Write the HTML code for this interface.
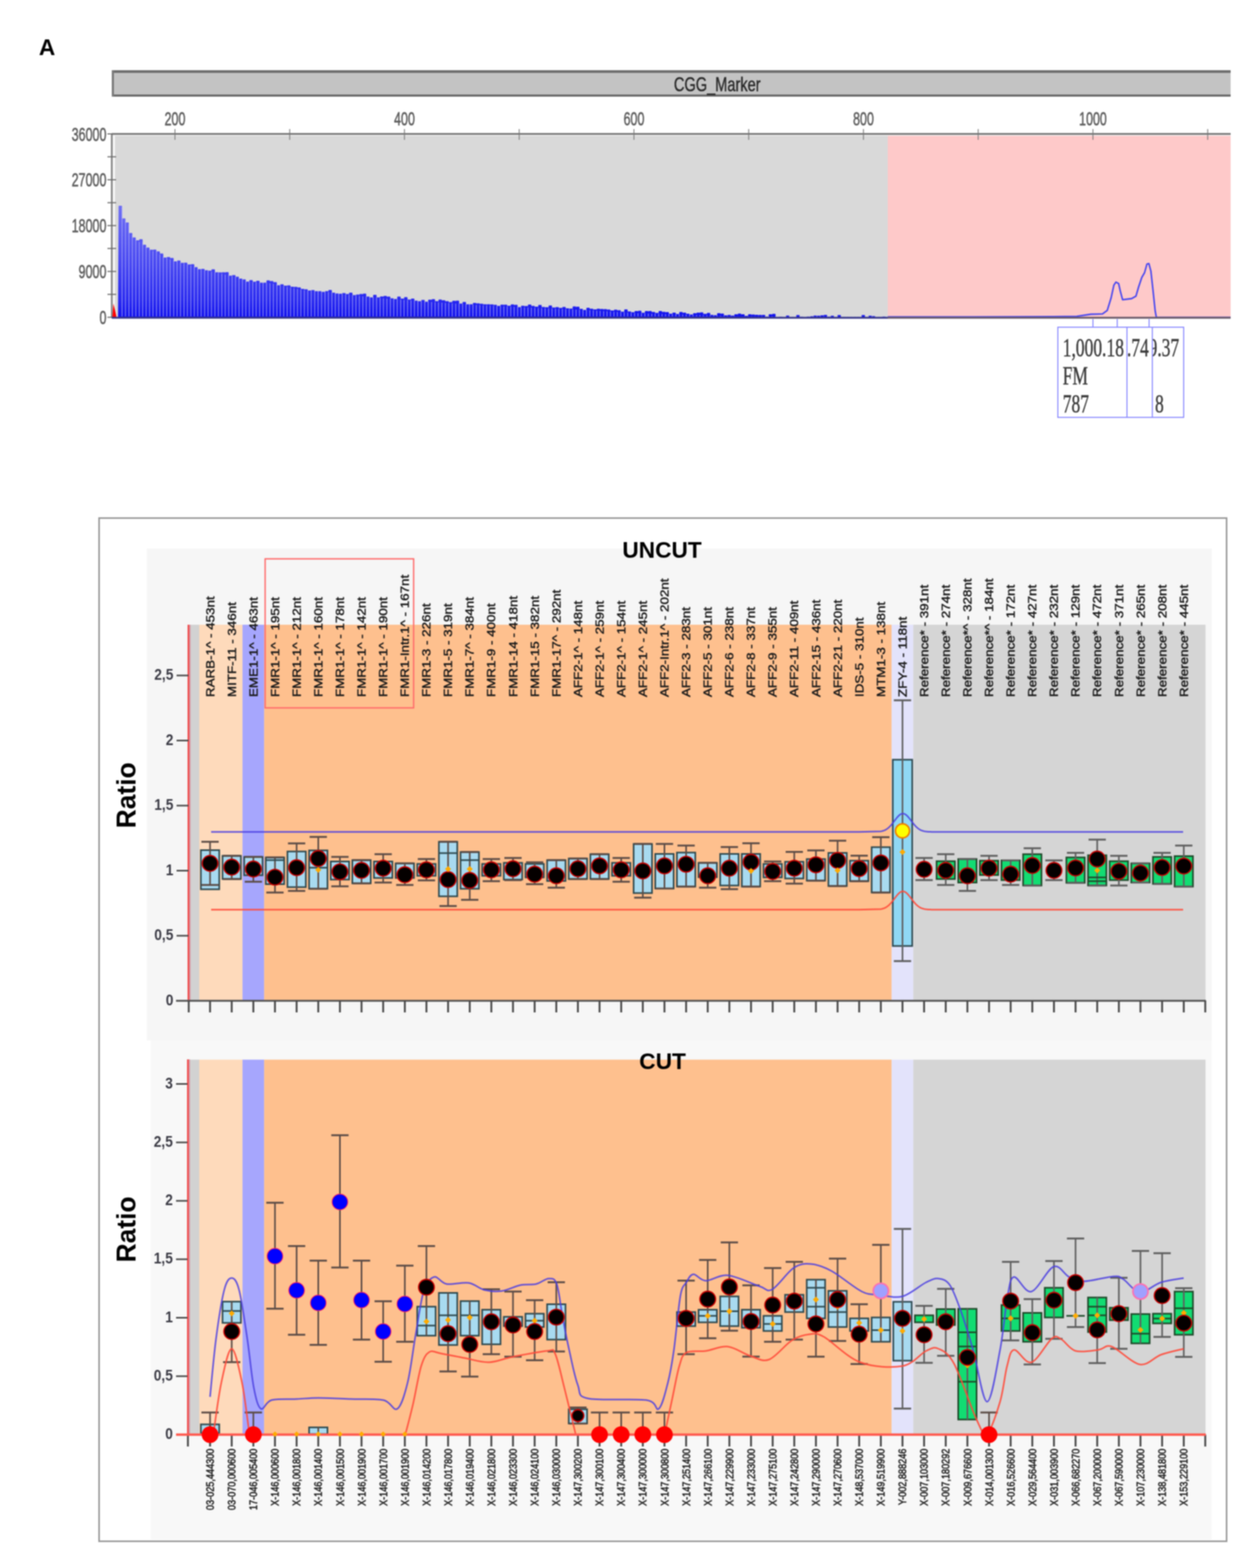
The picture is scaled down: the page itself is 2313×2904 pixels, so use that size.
<!DOCTYPE html><html><head><meta charset="utf-8"><title>CGG marker ratio chart</title><style>html,body{margin:0;padding:0;background:#fff;}svg{display:block;filter:blur(0.9px);}</style></head><body>
<svg width="2313" height="2904" viewBox="0 0 2313 2904">
<rect width="2313" height="2904" fill="#fff"/>
<g id="top">
<text x="72" y="102" font-family="'Liberation Sans', Arial, sans-serif" font-weight="bold" font-size="42" fill="#000">A</text>
<rect x="207" y="130" width="2072" height="49" fill="#c3c3c3"/>
<line x1="207" y1="132.5" x2="2279" y2="132.5" stroke="#6e6e6e" stroke-width="5"/>
<line x1="207" y1="177" x2="2279" y2="177" stroke="#6a6a6a" stroke-width="4"/>
<line x1="209" y1="130" x2="209" y2="179" stroke="#7a7a7a" stroke-width="4"/>
<text transform="translate(1248,169) scale(0.72,1)" font-family="'Liberation Sans', Arial, sans-serif" font-size="37.5" fill="#2a2a2a" stroke="#2a2a2a" stroke-width="0.7">CGG_Marker</text>
<rect x="208" y="248" width="1436" height="340" fill="#d9d9d9"/>
<rect x="1644" y="248" width="635" height="340" fill="#fec9c9"/>
<rect x="208" y="249" width="5" height="338" fill="#f6f6f6"/>
<rect x="208" y="249" width="2071" height="2.5" fill="#eeeeee"/>
<line x1="207" y1="248" x2="2279" y2="248" stroke="#6a6a6a" stroke-width="3"/>
<line x1="207" y1="247" x2="207" y2="589" stroke="#7a7a7a" stroke-width="3"/>
<line x1="324" y1="239" x2="324" y2="259" stroke="#777" stroke-width="1.6"/>
<line x1="536.5" y1="239" x2="536.5" y2="259" stroke="#777" stroke-width="1.6"/>
<line x1="749" y1="239" x2="749" y2="259" stroke="#777" stroke-width="1.6"/>
<line x1="961.5" y1="239" x2="961.5" y2="259" stroke="#777" stroke-width="1.6"/>
<line x1="1174" y1="239" x2="1174" y2="259" stroke="#777" stroke-width="1.6"/>
<line x1="1386.5" y1="239" x2="1386.5" y2="259" stroke="#777" stroke-width="1.6"/>
<line x1="1599" y1="239" x2="1599" y2="259" stroke="#777" stroke-width="1.6"/>
<line x1="1811.5" y1="239" x2="1811.5" y2="259" stroke="#777" stroke-width="1.6"/>
<line x1="2024" y1="239" x2="2024" y2="259" stroke="#777" stroke-width="1.6"/>
<line x1="2236.5" y1="239" x2="2236.5" y2="259" stroke="#777" stroke-width="1.6"/>
<text transform="translate(324,232) scale(0.66,1)" text-anchor="middle" font-family="'Liberation Sans', Arial, sans-serif" font-size="35" fill="#5e5e5e" stroke="#5e5e5e" stroke-width="0.9">200</text>
<text transform="translate(749,232) scale(0.66,1)" text-anchor="middle" font-family="'Liberation Sans', Arial, sans-serif" font-size="35" fill="#5e5e5e" stroke="#5e5e5e" stroke-width="0.9">400</text>
<text transform="translate(1174,232) scale(0.66,1)" text-anchor="middle" font-family="'Liberation Sans', Arial, sans-serif" font-size="35" fill="#5e5e5e" stroke="#5e5e5e" stroke-width="0.9">600</text>
<text transform="translate(1599,232) scale(0.66,1)" text-anchor="middle" font-family="'Liberation Sans', Arial, sans-serif" font-size="35" fill="#5e5e5e" stroke="#5e5e5e" stroke-width="0.9">800</text>
<text transform="translate(2024,232) scale(0.66,1)" text-anchor="middle" font-family="'Liberation Sans', Arial, sans-serif" font-size="35" fill="#5e5e5e" stroke="#5e5e5e" stroke-width="0.9">1000</text>
<line x1="199" y1="248" x2="215" y2="248" stroke="#6a6a6a" stroke-width="2"/>
<line x1="199" y1="290.4" x2="215" y2="290.4" stroke="#6a6a6a" stroke-width="2"/>
<line x1="199" y1="332.9" x2="215" y2="332.9" stroke="#6a6a6a" stroke-width="2"/>
<line x1="199" y1="375.4" x2="215" y2="375.4" stroke="#6a6a6a" stroke-width="2"/>
<line x1="199" y1="417.8" x2="215" y2="417.8" stroke="#6a6a6a" stroke-width="2"/>
<line x1="199" y1="460.2" x2="215" y2="460.2" stroke="#6a6a6a" stroke-width="2"/>
<line x1="199" y1="502.7" x2="215" y2="502.7" stroke="#6a6a6a" stroke-width="2"/>
<line x1="199" y1="545.2" x2="215" y2="545.2" stroke="#6a6a6a" stroke-width="2"/>
<line x1="199" y1="587.6" x2="215" y2="587.6" stroke="#6a6a6a" stroke-width="2"/>
<text transform="translate(197,260.5) scale(0.66,1)" text-anchor="end" font-family="'Liberation Sans', Arial, sans-serif" font-size="35" fill="#5e5e5e" stroke="#5e5e5e" stroke-width="0.9">36000</text>
<text transform="translate(197,345.4) scale(0.66,1)" text-anchor="end" font-family="'Liberation Sans', Arial, sans-serif" font-size="35" fill="#5e5e5e" stroke="#5e5e5e" stroke-width="0.9">27000</text>
<text transform="translate(197,430.3) scale(0.66,1)" text-anchor="end" font-family="'Liberation Sans', Arial, sans-serif" font-size="35" fill="#5e5e5e" stroke="#5e5e5e" stroke-width="0.9">18000</text>
<text transform="translate(197,515.2) scale(0.66,1)" text-anchor="end" font-family="'Liberation Sans', Arial, sans-serif" font-size="35" fill="#5e5e5e" stroke="#5e5e5e" stroke-width="0.9">9000</text>
<text transform="translate(197,600.1) scale(0.66,1)" text-anchor="end" font-family="'Liberation Sans', Arial, sans-serif" font-size="35" fill="#5e5e5e" stroke="#5e5e5e" stroke-width="0.9">0</text>
<path d="M208,588 L210,562 L212,570 L216,588 Z" fill="#ff0000"/>
<defs><linearGradient id="sg" gradientUnits="userSpaceOnUse" x1="0" y1="380" x2="0" y2="588"><stop offset="0" stop-color="#6e6ef4"/><stop offset="0.5" stop-color="#4848f2"/><stop offset="0.85" stop-color="#2828f0"/><stop offset="1" stop-color="#1010ee"/></linearGradient></defs>
<path d="M218.5,588 L219.6,382.5 L220.2,381 L225.4,381 L226,382.5 L226,405.9 L226.6,404.4 L231.8,404.4 L232.4,405.9 L232.3,413.5 L232.9,412 L238.1,412 L238.7,413.5 L238.7,433 L239.3,431.5 L244.5,431.5 L245.1,433 L245.1,441.3 L245.7,439.8 L250.9,439.8 L251.5,441.3 L251.5,446.6 L252.1,445.1 L257.3,445.1 L257.9,446.6 L257.8,444.6 L258.4,443.1 L263.6,443.1 L264.2,444.6 L264.2,454.7 L264.8,453.2 L270,453.2 L270.6,454.7 L270.6,460 L271.2,458.5 L276.4,458.5 L277,460 L276.9,464 L277.5,462.5 L282.7,462.5 L283.3,464 L283.3,463.8 L283.9,462.3 L289.1,462.3 L289.7,463.8 L289.7,467.1 L290.3,465.6 L295.5,465.6 L296.1,467.1 L296,471 L296.6,469.5 L301.8,469.5 L302.4,471 L302.4,478.6 L303,477.1 L308.2,477.1 L308.8,478.6 L308.8,477.6 L309.4,476.1 L314.6,476.1 L315.2,477.6 L315.2,479.3 L315.8,477.8 L321,477.8 L321.6,479.3 L321.5,485.5 L322.1,484 L327.3,484 L327.9,485.5 L327.9,484 L328.5,482.5 L333.7,482.5 L334.3,484 L334.3,488.2 L334.9,486.7 L340.1,486.7 L340.7,488.2 L340.6,488 L341.2,486.5 L346.4,486.5 L347,488 L347,491.2 L347.6,489.7 L352.8,489.7 L353.4,491.2 L353.4,490.8 L354,489.3 L359.2,489.3 L359.8,490.8 L359.7,496.2 L360.3,494.7 L365.5,494.7 L366.1,496.2 L366.1,500 L366.7,498.5 L371.9,498.5 L372.5,500 L372.5,499.5 L373.1,498 L378.3,498 L378.9,499.5 L378.9,502 L379.5,500.5 L384.7,500.5 L385.3,502 L385.2,502.8 L385.8,501.3 L391,501.3 L391.6,502.8 L391.6,500.3 L392.2,498.8 L397.4,498.8 L398,500.3 L398,505.7 L398.6,504.2 L403.8,504.2 L404.4,505.7 L404.3,506.1 L404.9,504.6 L410.1,504.6 L410.7,506.1 L410.7,505.8 L411.3,504.3 L416.5,504.3 L417.1,505.8 L417.1,505.6 L417.7,504.1 L422.9,504.1 L423.5,505.6 L423.4,512 L424,510.5 L429.2,510.5 L429.8,512 L429.8,511.1 L430.4,509.6 L435.6,509.6 L436.2,511.1 L436.2,514 L436.8,512.5 L442,512.5 L442.6,514 L442.6,517.4 L443.2,515.9 L448.4,515.9 L449,517.4 L448.9,519 L449.5,517.5 L454.7,517.5 L455.3,519 L455.3,522.9 L455.9,521.4 L461.1,521.4 L461.7,522.9 L461.7,520.3 L462.3,518.8 L467.5,518.8 L468.1,520.3 L468,523.2 L468.6,521.7 L473.8,521.7 L474.4,523.2 L474.4,521.5 L475,520 L480.2,520 L480.8,521.5 L480.8,524.9 L481.4,523.4 L486.6,523.4 L487.2,524.9 L487.1,524.9 L487.7,523.4 L492.9,523.4 L493.5,524.9 L493.5,520.7 L494.1,519.2 L499.3,519.2 L499.9,520.7 L499.9,521.9 L500.5,520.4 L505.7,520.4 L506.3,521.9 L506.3,523.9 L506.9,522.4 L512.1,522.4 L512.7,523.9 L512.6,529.8 L513.2,528.3 L518.4,528.3 L519,529.8 L519,528 L519.6,526.5 L524.8,526.5 L525.4,528 L525.4,530.6 L526,529.1 L531.2,529.1 L531.8,530.6 L531.7,529.9 L532.3,528.4 L537.5,528.4 L538.1,529.9 L538.1,532.4 L538.7,530.9 L543.9,530.9 L544.5,532.4 L544.5,532.8 L545.1,531.3 L550.3,531.3 L550.9,532.8 L550.8,533.8 L551.4,532.3 L556.6,532.3 L557.2,533.8 L557.2,536.4 L557.8,534.9 L563,534.9 L563.6,536.4 L563.6,537.2 L564.2,535.7 L569.4,535.7 L570,537.2 L570,539.6 L570.6,538.1 L575.8,538.1 L576.4,539.6 L576.3,538.8 L576.9,537.3 L582.1,537.3 L582.7,538.8 L582.7,540.7 L583.3,539.2 L588.5,539.2 L589.1,540.7 L589.1,540.8 L589.7,539.3 L594.9,539.3 L595.5,540.8 L595.4,542 L596,540.5 L601.2,540.5 L601.8,542 L601.8,540.7 L602.4,539.2 L607.6,539.2 L608.2,540.7 L608.2,538.4 L608.8,536.9 L614,536.9 L614.6,538.4 L614.5,543.5 L615.1,542 L620.3,542 L620.9,543.5 L620.9,544.9 L621.5,543.4 L626.7,543.4 L627.3,544.9 L627.3,545.4 L627.9,543.9 L633.1,543.9 L633.7,545.4 L633.7,544.2 L634.3,542.7 L639.5,542.7 L640.1,544.2 L640,545.9 L640.6,544.4 L645.8,544.4 L646.4,545.9 L646.4,543.6 L647,542.1 L652.2,542.1 L652.8,543.6 L652.8,547.9 L653.4,546.4 L658.6,546.4 L659.2,547.9 L659.1,547 L659.7,545.5 L664.9,545.5 L665.5,547 L665.5,546 L666.1,544.5 L671.3,544.5 L671.9,546 L671.9,545.3 L672.5,543.8 L677.7,543.8 L678.3,545.3 L678.2,550.7 L678.8,549.2 L684,549.2 L684.6,550.7 L684.6,552.2 L685.2,550.7 L690.4,550.7 L691,552.2 L691,547.4 L691.6,545.9 L696.8,545.9 L697.4,547.4 L697.4,552.3 L698,550.8 L703.2,550.8 L703.8,552.3 L703.7,550.5 L704.3,549 L709.5,549 L710.1,550.5 L710.1,549.4 L710.7,547.9 L715.9,547.9 L716.5,549.4 L716.5,550.8 L717.1,549.3 L722.3,549.3 L722.9,550.8 L722.8,554.1 L723.4,552.6 L728.6,552.6 L729.2,554.1 L729.2,555.2 L729.8,553.7 L735,553.7 L735.6,555.2 L735.6,550.7 L736.2,549.2 L741.4,549.2 L742,550.7 L741.9,554.6 L742.5,553.1 L747.7,553.1 L748.3,554.6 L748.3,551.7 L748.9,550.2 L754.1,550.2 L754.7,551.7 L754.7,556.2 L755.3,554.7 L760.5,554.7 L761.1,556.2 L761.1,554.4 L761.7,552.9 L766.9,552.9 L767.5,554.4 L767.4,558.2 L768,556.7 L773.2,556.7 L773.8,558.2 L773.8,559.2 L774.4,557.7 L779.6,557.7 L780.2,559.2 L780.2,556.9 L780.8,555.4 L786,555.4 L786.6,556.9 L786.5,560.3 L787.1,558.8 L792.3,558.8 L792.9,560.3 L792.9,556.6 L793.5,555.1 L798.7,555.1 L799.3,556.6 L799.3,555.6 L799.9,554.1 L805.1,554.1 L805.7,555.6 L805.6,559.2 L806.2,557.7 L811.4,557.7 L812,559.2 L812,556.2 L812.6,554.7 L817.8,554.7 L818.4,556.2 L818.4,557.6 L819,556.1 L824.2,556.1 L824.8,557.6 L824.8,559.3 L825.4,557.8 L830.6,557.8 L831.2,559.3 L831.1,560.9 L831.7,559.4 L836.9,559.4 L837.5,560.9 L837.5,558.6 L838.1,557.1 L843.3,557.1 L843.9,558.6 L843.9,558.3 L844.5,556.8 L849.7,556.8 L850.3,558.3 L850.2,563.7 L850.8,562.2 L856,562.2 L856.6,563.7 L856.6,560.8 L857.2,559.3 L862.4,559.3 L863,560.8 L863,565.1 L863.6,563.6 L868.8,563.6 L869.4,565.1 L869.3,565.1 L869.9,563.6 L875.1,563.6 L875.7,565.1 L875.7,562.4 L876.3,560.9 L881.5,560.9 L882.1,562.4 L882.1,563.3 L882.7,561.8 L887.9,561.8 L888.5,563.3 L888.5,564 L889.1,562.5 L894.3,562.5 L894.9,564 L894.8,565.1 L895.4,563.6 L900.6,563.6 L901.2,565.1 L901.2,565.1 L901.8,563.6 L907,563.6 L907.6,565.1 L907.6,565.2 L908.2,563.7 L913.4,563.7 L914,565.2 L913.9,565.9 L914.5,564.4 L919.7,564.4 L920.3,565.9 L920.3,568.1 L920.9,566.6 L926.1,566.6 L926.7,568.1 L926.7,565.8 L927.3,564.3 L932.5,564.3 L933.1,565.8 L933,565.7 L933.6,564.2 L938.8,564.2 L939.4,565.7 L939.4,567.8 L940,566.3 L945.2,566.3 L945.8,567.8 L945.8,565.2 L946.4,563.7 L951.6,563.7 L952.2,565.2 L952.2,565.9 L952.8,564.4 L958,564.4 L958.6,565.9 L958.5,570.3 L959.1,568.8 L964.3,568.8 L964.9,570.3 L964.9,567.8 L965.5,566.3 L970.7,566.3 L971.3,567.8 L971.3,568.3 L971.9,566.8 L977.1,566.8 L977.7,568.3 L977.6,565.4 L978.2,563.9 L983.4,563.9 L984,565.4 L984,568.1 L984.6,566.6 L989.8,566.6 L990.4,568.1 L990.4,569.4 L991,567.9 L996.2,567.9 L996.8,569.4 L996.7,566.3 L997.3,564.8 L1002.5,564.8 L1003.1,566.3 L1003.1,570.1 L1003.7,568.6 L1008.9,568.6 L1009.5,570.1 L1009.5,570.5 L1010.1,569 L1015.3,569 L1015.9,570.5 L1015.9,567.3 L1016.5,565.8 L1021.7,565.8 L1022.3,567.3 L1022.2,571 L1022.8,569.5 L1028,569.5 L1028.6,571 L1028.6,570.3 L1029.2,568.8 L1034.4,568.8 L1035,570.3 L1035,571.8 L1035.6,570.3 L1040.8,570.3 L1041.4,571.8 L1041.3,570.1 L1041.9,568.6 L1047.1,568.6 L1047.7,570.1 L1047.7,572.5 L1048.3,571 L1053.5,571 L1054.1,572.5 L1054.1,573 L1054.7,571.5 L1059.9,571.5 L1060.5,573 L1060.4,569 L1061,567.5 L1066.2,567.5 L1066.8,569 L1066.8,569.4 L1067.4,567.9 L1072.6,567.9 L1073.2,569.4 L1073.2,573.4 L1073.8,571.9 L1079,571.9 L1079.6,573.4 L1079.5,575.5 L1080.1,574 L1085.3,574 L1085.9,575.5 L1085.9,571.6 L1086.5,570.1 L1091.7,570.1 L1092.3,571.6 L1092.3,573.2 L1092.9,571.7 L1098.1,571.7 L1098.7,573.2 L1098.7,574.4 L1099.3,572.9 L1104.5,572.9 L1105.1,574.4 L1105,573.2 L1105.6,571.7 L1110.8,571.7 L1111.4,573.2 L1111.4,573.8 L1112,572.3 L1117.2,572.3 L1117.8,573.8 L1117.8,573.9 L1118.4,572.4 L1123.6,572.4 L1124.2,573.9 L1124.1,574.7 L1124.7,573.2 L1129.9,573.2 L1130.5,574.7 L1130.5,576.4 L1131.1,574.9 L1136.3,574.9 L1136.9,576.4 L1136.9,575.1 L1137.5,573.6 L1142.7,573.6 L1143.3,575.1 L1143.2,575.9 L1143.8,574.4 L1149,574.4 L1149.6,575.9 L1149.6,578.7 L1150.2,577.2 L1155.4,577.2 L1156,578.7 L1156,574.6 L1156.6,573.1 L1161.8,573.1 L1162.4,574.6 L1162.4,578.3 L1163,576.8 L1168.2,576.8 L1168.8,578.3 L1168.7,579.7 L1169.3,578.2 L1174.5,578.2 L1175.1,579.7 L1175.1,577.4 L1175.7,575.9 L1180.9,575.9 L1181.5,577.4 L1181.5,577.1 L1182.1,575.6 L1187.3,575.6 L1187.9,577.1 L1187.8,580.8 L1188.4,579.3 L1193.6,579.3 L1194.2,580.8 L1194.2,577.6 L1194.8,576.1 L1200,576.1 L1200.6,577.6 L1200.6,577.5 L1201.2,576 L1206.4,576 L1207,577.5 L1206.9,579.2 L1207.5,577.7 L1212.7,577.7 L1213.3,579.2 L1213.3,580.9 L1213.9,579.4 L1219.1,579.4 L1219.7,580.9 L1219.7,577.6 L1220.3,576.1 L1225.5,576.1 L1226.1,577.6 L1226.1,579.1 L1226.7,577.6 L1231.9,577.6 L1232.5,579.1 L1232.4,579.4 L1233,577.9 L1238.2,577.9 L1238.8,579.4 L1238.8,582.6 L1239.4,581.1 L1244.6,581.1 L1245.2,582.6 L1245.2,580.4 L1245.8,578.9 L1251,578.9 L1251.6,580.4 L1251.5,583.1 L1252.1,581.6 L1257.3,581.6 L1257.9,583.1 L1257.9,579.2 L1258.5,577.7 L1263.7,577.7 L1264.3,579.2 L1264.3,580.4 L1264.9,578.9 L1270.1,578.9 L1270.7,580.4 L1270.6,582.4 L1271.2,580.9 L1276.4,580.9 L1277,582.4 L1277,584 L1277.6,582.5 L1282.8,582.5 L1283.4,584 L1283.4,581.6 L1284,580.1 L1289.2,580.1 L1289.8,581.6 L1289.8,580.5 L1290.4,579 L1295.6,579 L1296.2,580.5 L1296.1,580.1 L1296.7,578.6 L1301.9,578.6 L1302.5,580.1 L1302.5,582.7 L1303.1,581.2 L1308.3,581.2 L1308.9,582.7 L1308.9,580.9 L1309.5,579.4 L1314.7,579.4 L1315.3,580.9 L1315.2,584.8 L1315.8,583.3 L1321,583.3 L1321.6,584.8 L1321.6,585.2 L1322.2,583.7 L1327.4,583.7 L1328,585.2 L1328,581.4 L1328.6,579.9 L1333.8,579.9 L1334.4,581.4 L1334.3,582.2 L1334.9,580.7 L1340.1,580.7 L1340.7,582.2 L1340.7,585.6 L1341.3,584.1 L1346.5,584.1 L1347.1,585.6 L1347.1,584.8 L1347.7,583.3 L1352.9,583.3 L1353.5,584.8 L1353.5,586 L1354.1,584.5 L1359.3,584.5 L1359.9,586 L1359.8,583.4 L1360.4,581.9 L1365.6,581.9 L1366.2,583.4 L1366.2,582.3 L1366.8,580.8 L1372,580.8 L1372.6,582.3 L1372.6,583.4 L1373.2,581.9 L1378.4,581.9 L1379,583.4 L1378.9,586.5 L1379.5,585 L1384.7,585 L1385.3,586.5 L1385.3,583.5 L1385.9,582 L1391.1,582 L1391.7,583.5 L1391.7,584.1 L1392.3,582.6 L1397.5,582.6 L1398.1,584.1 L1398,584.6 L1398.6,583.1 L1403.8,583.1 L1404.4,584.6 L1404.4,584.8 L1405,583.3 L1410.2,583.3 L1410.8,584.8 L1410.8,584.8 L1411.4,583.3 L1416.6,583.3 L1417.2,584.8 L1417.2,588 L1417.8,586.5 L1423,586.5 L1423.6,587 L1423.5,583.6 L1424.1,582.1 L1429.3,582.1 L1429.9,583.6 L1429.9,582.8 L1430.5,581.3 L1435.7,581.3 L1436.3,582.8 L1436.3,588.5 L1436.9,587 L1442.1,587 L1442.7,587 L1442.6,588.3 L1443.2,586.8 L1448.4,586.8 L1449,587 L1449,588.5 L1449.6,587 L1454.8,587 L1455.4,587 L1455.4,585.9 L1456,584.4 L1461.2,584.4 L1461.8,585.9 L1461.7,588.5 L1462.3,587 L1467.5,587 L1468.1,587 L1468.1,588.5 L1468.7,587 L1473.9,587 L1474.5,587 L1474.5,585 L1475.1,583.5 L1480.3,583.5 L1480.9,585 L1480.9,588.2 L1481.5,586.7 L1486.7,586.7 L1487.3,587 L1487.2,588.5 L1487.8,587 L1493,587 L1493.6,587 L1493.6,588 L1494.2,586.5 L1499.4,586.5 L1500,587 L1500,587.2 L1500.6,585.7 L1505.8,585.7 L1506.4,587 L1506.3,585.9 L1506.9,584.4 L1512.1,584.4 L1512.7,585.9 L1512.7,586.2 L1513.3,584.7 L1518.5,584.7 L1519.1,586.2 L1519.1,585.6 L1519.7,584.1 L1524.9,584.1 L1525.5,585.6 L1525.4,584.7 L1526,583.2 L1531.2,583.2 L1531.8,584.7 L1531.8,587.9 L1532.4,586.4 L1537.6,586.4 L1538.2,587 L1538.2,586.2 L1538.8,584.7 L1544,584.7 L1544.6,586.2 L1544.6,588.5 L1545.2,587 L1550.4,587 L1551,587 L1550.9,584.9 L1551.5,583.4 L1556.7,583.4 L1557.3,584.9 L1557.3,588.5 L1557.9,587 L1563.1,587 L1563.7,587 L1563.7,588.5 L1564.3,587 L1569.5,587 L1570.1,587 L1570,588.5 L1570.6,587 L1575.8,587 L1576.4,587 L1576.4,588.5 L1577,587 L1582.2,587 L1582.8,587 L1582.8,588.5 L1583.4,587 L1588.6,587 L1589.2,587 L1589.1,588.4 L1589.7,586.9 L1594.9,586.9 L1595.5,587 L1595.5,585.1 L1596.1,583.6 L1601.3,583.6 L1601.9,585.1 L1601.9,588.5 L1602.5,587 L1607.7,587 L1608.3,587 L1608.3,586.2 L1608.9,584.7 L1614.1,584.7 L1614.7,586.2 L1614.6,587 L1615.2,585.5 L1620.4,585.5 L1621,587 L1621,588.5 L1621.6,587 L1626.8,587 L1627.4,587 L1627.4,588.5 L1628,587 L1633.2,587 L1633.8,587 L1633.7,587.9 L1634.3,586.4 L1639.5,586.4 L1640.1,587 L1644,588 Z" fill="url(#sg)"/>
<path d="M226,586 V384 M232.4,586 V407.4 M238.7,586 V415 M245.1,586 V434.5 M251.5,586 V442.8 M257.9,586 V448.1 M264.2,586 V447.7 M270.6,586 V455.9 M277,586 V462.3 M283.3,586 V464.9 M289.7,586 V464.6 M296.1,586 V471.2 M302.4,586 V475.5 M308.8,586 V478 M315.2,586 V480.6 M321.6,586 V482.4 M327.9,586 V484 M334.3,586 V485.7 M340.7,586 V487.7 M347,586 V489.7 M353.4,586 V491.9 M359.8,586 V494.4 M366.1,586 V496.8 M372.5,586 V499.3 M378.9,586 V500.9 M385.3,586 V502.1 M391.6,586 V503.3 M398,586 V504.5 M404.4,586 V505.7 M410.7,586 V507 M417.1,586 V508.5 M423.5,586 V509.9 M429.8,586 V511.4 M436.2,586 V512.8 M442.6,586 V514.2 M449,586 V516.6 M455.3,586 V519.2 M461.7,586 V521.9 M468.1,586 V522.4 M474.4,586 V522.9 M480.8,586 V523.3 M487.2,586 V523.7 M493.5,586 V524.2 M499.9,586 V524.6 M506.3,586 V525.6 M512.7,586 V527.1 M519,586 V528.5 M525.4,586 V529.9 M531.8,586 V531.3 M538.1,586 V532.6 M544.5,586 V533.8 M550.9,586 V535 M557.2,586 V536.2 M563.6,586 V537.4 M570,586 V538.2 M576.4,586 V538.7 M582.7,586 V539.2 M589.1,586 V539.7 M595.5,586 V540.1 M601.8,586 V540.6 M608.2,586 V541.1 M614.6,586 V542 M620.9,586 V542.8 M627.3,586 V543.6 M633.7,586 V544.5 M640.1,586 V545.3 M646.4,586 V546.1 M652.8,586 V546.8 M659.2,586 V547.4 M665.5,586 V548.1 M671.9,586 V548.8 M678.3,586 V549.4 M684.6,586 V550.1 M691,586 V550.7 M697.4,586 V551.4 M703.8,586 V552 M710.1,586 V552.5 M716.5,586 V553 M722.9,586 V553.5 M729.2,586 V554 M735.6,586 V554.5 M742,586 V554.9 M748.3,586 V555.4 M754.7,586 V555.9 M761.1,586 V556.4 M767.5,586 V556.9 M773.8,586 V557.4 M780.2,586 V557.9 M786.6,586 V558.3 M792.9,586 V558.8 M799.3,586 V559.3 M805.7,586 V559.7 M812,586 V560.1 M818.4,586 V560.5 M824.8,586 V560.9 M831.2,586 V561.3 M837.5,586 V561.8 M843.9,586 V562.2 M850.3,586 V562.6 M856.6,586 V563 M863,586 V563.4 M869.4,586 V563.8 M875.7,586 V564.3 M882.1,586 V564.7 M888.5,586 V565.1 M894.9,586 V565.4 M901.2,586 V565.7 M907.6,586 V566 M914,586 V566.3 M920.3,586 V566.7 M926.7,586 V567 M933.1,586 V567.3 M939.4,586 V567.6 M945.8,586 V567.9 M952.2,586 V568.2 M958.6,586 V568.6 M964.9,586 V568.9 M971.3,586 V569.2 M977.7,586 V569.5 M984,586 V569.8 M990.4,586 V570.1 M996.8,586 V570.4 M1003.1,586 V570.7 M1009.5,586 V570.9 M1015.9,586 V571.2 M1022.3,586 V571.5 M1028.6,586 V571.7 M1035,586 V572 M1041.4,586 V572.3 M1047.7,586 V572.5 M1054.1,586 V572.8 M1060.5,586 V573.1 M1066.8,586 V573.3 M1073.2,586 V573.6 M1079.6,586 V573.8 M1085.9,586 V574.2 M1092.3,586 V574.6 M1098.7,586 V575 M1105.1,586 V575.4 M1111.4,586 V575.8 M1117.8,586 V576.2 M1124.2,586 V576.6 M1130.5,586 V577 M1136.9,586 V577.4 M1143.3,586 V577.8 M1149.6,586 V578.2 M1156,586 V578.6 M1162.4,586 V578.9 M1168.8,586 V579.3 M1175.1,586 V579.7 M1181.5,586 V580.1 M1187.9,586 V580.3 M1194.2,586 V580.5 M1200.6,586 V580.7 M1207,586 V580.9 M1213.3,586 V581.1 M1219.7,586 V581.3 M1226.1,586 V581.5 M1232.5,586 V581.7 M1238.8,586 V581.9 M1245.2,586 V582.1 M1251.6,586 V582.2 M1257.9,586 V582.4 M1264.3,586 V582.6 M1270.7,586 V582.8 M1277,586 V583 M1283.4,586 V583.2 M1289.8,586 V583.4 M1296.2,586 V583.6 M1302.5,586 V583.8 M1308.9,586 V584 M1315.3,586 V584.2 M1321.6,586 V584.4 M1328,586 V584.6 M1334.4,586 V584.8 M1340.7,586 V585 M1347.1,586 V585.2 M1353.5,586 V585.4 M1359.9,586 V585.6 M1366.2,586 V585.8 M1372.6,586 V586 M1379,586 V586.1 M1385.3,586 V586.3 M1391.7,586 V586.4 M1398.1,586 V586.5 M1404.4,586 V586.6 M1410.8,586 V586.8 M1417.2,586 V586.9 M1423.6,586 V587 M1429.9,586 V587.1 M1436.3,586 V587.3 M1442.7,586 V587.4 M1449,586 V587.5 M1455.4,586 V587.6 M1461.8,586 V587.7 M1468.1,586 V587.9 M1474.5,586 V588 M1480.9,586 V588.1 M1487.3,586 V588.2 M1493.6,586 V588.4 M1500,586 V588.5 M1506.4,586 V588.6 M1512.7,586 V588.6 M1519.1,586 V588.7 M1525.5,586 V588.8 M1531.8,586 V588.8 M1538.2,586 V588.9 M1544.6,586 V589 M1551,586 V589 M1557.3,586 V589.1 M1563.7,586 V589.1 M1570.1,586 V589.2 M1576.4,586 V589.3 M1582.8,586 V589.3 M1589.2,586 V589.4 M1595.5,586 V589.5 M1601.9,586 V589.5 M1608.3,586 V589.6 M1614.7,586 V589.7 M1621,586 V589.7 M1627.4,586 V589.8 M1633.8,586 V589.9 M1640.1,586 V589.9 " stroke="#b4b4f6" stroke-width="1.5" stroke-opacity="0.75" fill="none"/>
<polyline points="1644,587 1800,587 1950,586.5 1994,585.8 2020,582 2041.7,581.4 2050.5,574.8 2057.7,551.5 2062.8,528 2066.5,522.4 2071.6,525.3 2074.5,538.4 2078.9,555.2 2095.6,553 2103.6,548.6 2108.7,531 2114.5,513.7 2119.6,505 2124,489 2127.6,488.2 2131.3,502 2135,535.5 2139.3,576.3 2141.5,588 2279,588" fill="none" stroke="#4444f0" stroke-width="2.8" stroke-linejoin="round"/>
<line x1="207" y1="588.5" x2="1644" y2="588.5" stroke="#3a3a8a" stroke-width="3.5"/>
<line x1="1644" y1="588.5" x2="2279" y2="588.5" stroke="#6a5a6a" stroke-width="3.5"/>
<g stroke="#8a8aff" stroke-width="2" fill="none">
<rect x="1959" y="606" width="233" height="167"/>
<line x1="2087" y1="606" x2="2087" y2="773"/><line x1="2134" y1="606" x2="2134" y2="773"/>
<line x1="2024" y1="591" x2="2024" y2="606"/><line x1="2069" y1="591" x2="2069" y2="606"/><line x1="2128" y1="591" x2="2128" y2="606"/>
</g>
<defs><clipPath id="c1"><rect x="1960" y="607" width="126" height="165"/></clipPath><clipPath id="c2"><rect x="2088" y="607" width="45" height="165"/></clipPath><clipPath id="c3"><rect x="2135" y="607" width="56" height="165"/></clipPath></defs>
<g clip-path="url(#c1)"><text transform="translate(1968,660) scale(0.661,1)" font-family="'Liberation Serif', 'Times New Roman', serif" font-size="49" fill="#3a3a3a" stroke="#3a3a3a" stroke-width="0.7">1,000.18</text><text transform="translate(1968,712) scale(0.661,1)" font-family="'Liberation Serif', 'Times New Roman', serif" font-size="49" fill="#3a3a3a" stroke="#3a3a3a" stroke-width="0.7">FM</text><text transform="translate(1968,764) scale(0.661,1)" font-family="'Liberation Serif', 'Times New Roman', serif" font-size="49" fill="#3a3a3a" stroke="#3a3a3a" stroke-width="0.7">787</text></g>
<g clip-path="url(#c2)"><text transform="translate(2087,660) scale(0.661,1)" font-family="'Liberation Serif', 'Times New Roman', serif" font-size="49" fill="#3a3a3a" stroke="#3a3a3a" stroke-width="0.7">.74</text></g>
<g clip-path="url(#c3)"><text transform="translate(2127,660) scale(0.661,1)" font-family="'Liberation Serif', 'Times New Roman', serif" font-size="49" fill="#3a3a3a" stroke="#3a3a3a" stroke-width="0.7">9.37</text><text transform="translate(2139,764) scale(0.661,1)" font-family="'Liberation Serif', 'Times New Roman', serif" font-size="49" fill="#3a3a3a" stroke="#3a3a3a" stroke-width="0.7">8</text></g>
</g>
<rect x="183.5" y="959.5" width="2088" height="1895" fill="#fff" stroke="#9a9a9a" stroke-width="3"/>
<rect x="272" y="1016" width="1972" height="911" fill="#f6f6f6"/>
<rect x="279" y="1927" width="1965" height="924" fill="#f8f8f8"/>
<rect x="351" y="1157" width="18" height="696.5" fill="#d2d2d2"/>
<rect x="369" y="1157" width="80.1" height="696.5" fill="#fedabb"/>
<rect x="449.1" y="1157" width="40.1" height="696.5" fill="#a6a6fd"/>
<rect x="489.2" y="1157" width="1162" height="696.5" fill="#fec08e"/>
<rect x="1651.2" y="1157" width="40.1" height="696.5" fill="#e3e3fb"/>
<rect x="1691.3" y="1157" width="541.2" height="696.5" fill="#d5d5d5"/>
<rect x="491" y="1035" width="275" height="276" fill="none" stroke="#ff6a6a" stroke-width="2.5"/>
<text transform="translate(396.5,1291) rotate(-90) scale(1,0.9)" font-family="'Liberation Sans', Arial, sans-serif" font-size="24.8" fill="#1a1a1a" stroke="#1a1a1a" stroke-width="0.8">RARB-1^ - 453nt</text>
<text transform="translate(436.6,1291) rotate(-90) scale(1,0.9)" font-family="'Liberation Sans', Arial, sans-serif" font-size="24.8" fill="#1a1a1a" stroke="#1a1a1a" stroke-width="0.8">MITF-11 - 346nt</text>
<text transform="translate(476.7,1291) rotate(-90) scale(1,0.9)" font-family="'Liberation Sans', Arial, sans-serif" font-size="24.8" fill="#1a1a1a" stroke="#1a1a1a" stroke-width="0.8">EME1-1^ - 463nt</text>
<text transform="translate(516.7,1291) rotate(-90) scale(1,0.9)" font-family="'Liberation Sans', Arial, sans-serif" font-size="24.8" fill="#1a1a1a" stroke="#1a1a1a" stroke-width="0.8">FMR1-1^ - 195nt</text>
<text transform="translate(556.8,1291) rotate(-90) scale(1,0.9)" font-family="'Liberation Sans', Arial, sans-serif" font-size="24.8" fill="#1a1a1a" stroke="#1a1a1a" stroke-width="0.8">FMR1-1^ - 212nt</text>
<text transform="translate(596.9,1291) rotate(-90) scale(1,0.9)" font-family="'Liberation Sans', Arial, sans-serif" font-size="24.8" fill="#1a1a1a" stroke="#1a1a1a" stroke-width="0.8">FMR1-1^ - 160nt</text>
<text transform="translate(637,1291) rotate(-90) scale(1,0.9)" font-family="'Liberation Sans', Arial, sans-serif" font-size="24.8" fill="#1a1a1a" stroke="#1a1a1a" stroke-width="0.8">FMR1-1^ - 178nt</text>
<text transform="translate(677,1291) rotate(-90) scale(1,0.9)" font-family="'Liberation Sans', Arial, sans-serif" font-size="24.8" fill="#1a1a1a" stroke="#1a1a1a" stroke-width="0.8">FMR1-1^ - 142nt</text>
<text transform="translate(717.1,1291) rotate(-90) scale(1,0.9)" font-family="'Liberation Sans', Arial, sans-serif" font-size="24.8" fill="#1a1a1a" stroke="#1a1a1a" stroke-width="0.8">FMR1-1^ - 190nt</text>
<text transform="translate(757.2,1291) rotate(-90) scale(1,0.9)" font-family="'Liberation Sans', Arial, sans-serif" font-size="24.8" fill="#1a1a1a" stroke="#1a1a1a" stroke-width="0.8">FMR1-Intr.1^ - 167nt</text>
<text transform="translate(797.2,1291) rotate(-90) scale(1,0.9)" font-family="'Liberation Sans', Arial, sans-serif" font-size="24.8" fill="#1a1a1a" stroke="#1a1a1a" stroke-width="0.8">FMR1-3 - 226nt</text>
<text transform="translate(837.3,1291) rotate(-90) scale(1,0.9)" font-family="'Liberation Sans', Arial, sans-serif" font-size="24.8" fill="#1a1a1a" stroke="#1a1a1a" stroke-width="0.8">FMR1-5 - 319nt</text>
<text transform="translate(877.4,1291) rotate(-90) scale(1,0.9)" font-family="'Liberation Sans', Arial, sans-serif" font-size="24.8" fill="#1a1a1a" stroke="#1a1a1a" stroke-width="0.8">FMR1-7^ - 384nt</text>
<text transform="translate(917.4,1291) rotate(-90) scale(1,0.9)" font-family="'Liberation Sans', Arial, sans-serif" font-size="24.8" fill="#1a1a1a" stroke="#1a1a1a" stroke-width="0.8">FMR1-9 - 400nt</text>
<text transform="translate(957.5,1291) rotate(-90) scale(1,0.9)" font-family="'Liberation Sans', Arial, sans-serif" font-size="24.8" fill="#1a1a1a" stroke="#1a1a1a" stroke-width="0.8">FMR1-14 - 418nt</text>
<text transform="translate(997.6,1291) rotate(-90) scale(1,0.9)" font-family="'Liberation Sans', Arial, sans-serif" font-size="24.8" fill="#1a1a1a" stroke="#1a1a1a" stroke-width="0.8">FMR1-15 - 382nt</text>
<text transform="translate(1037.7,1291) rotate(-90) scale(1,0.9)" font-family="'Liberation Sans', Arial, sans-serif" font-size="24.8" fill="#1a1a1a" stroke="#1a1a1a" stroke-width="0.8">FMR1-17^ - 292nt</text>
<text transform="translate(1077.7,1291) rotate(-90) scale(1,0.9)" font-family="'Liberation Sans', Arial, sans-serif" font-size="24.8" fill="#1a1a1a" stroke="#1a1a1a" stroke-width="0.8">AFF2-1^ - 148nt</text>
<text transform="translate(1117.8,1291) rotate(-90) scale(1,0.9)" font-family="'Liberation Sans', Arial, sans-serif" font-size="24.8" fill="#1a1a1a" stroke="#1a1a1a" stroke-width="0.8">AFF2-1^ - 259nt</text>
<text transform="translate(1157.9,1291) rotate(-90) scale(1,0.9)" font-family="'Liberation Sans', Arial, sans-serif" font-size="24.8" fill="#1a1a1a" stroke="#1a1a1a" stroke-width="0.8">AFF2-1^ - 154nt</text>
<text transform="translate(1197.9,1291) rotate(-90) scale(1,0.9)" font-family="'Liberation Sans', Arial, sans-serif" font-size="24.8" fill="#1a1a1a" stroke="#1a1a1a" stroke-width="0.8">AFF2-1^ - 245nt</text>
<text transform="translate(1238,1291) rotate(-90) scale(1,0.9)" font-family="'Liberation Sans', Arial, sans-serif" font-size="24.8" fill="#1a1a1a" stroke="#1a1a1a" stroke-width="0.8">AFF2-Intr.1^ - 202nt</text>
<text transform="translate(1278.1,1291) rotate(-90) scale(1,0.9)" font-family="'Liberation Sans', Arial, sans-serif" font-size="24.8" fill="#1a1a1a" stroke="#1a1a1a" stroke-width="0.8">AFF2-3 - 283nt</text>
<text transform="translate(1318.1,1291) rotate(-90) scale(1,0.9)" font-family="'Liberation Sans', Arial, sans-serif" font-size="24.8" fill="#1a1a1a" stroke="#1a1a1a" stroke-width="0.8">AFF2-5 - 301nt</text>
<text transform="translate(1358.2,1291) rotate(-90) scale(1,0.9)" font-family="'Liberation Sans', Arial, sans-serif" font-size="24.8" fill="#1a1a1a" stroke="#1a1a1a" stroke-width="0.8">AFF2-6 - 238nt</text>
<text transform="translate(1398.3,1291) rotate(-90) scale(1,0.9)" font-family="'Liberation Sans', Arial, sans-serif" font-size="24.8" fill="#1a1a1a" stroke="#1a1a1a" stroke-width="0.8">AFF2-8 - 337nt</text>
<text transform="translate(1438.4,1291) rotate(-90) scale(1,0.9)" font-family="'Liberation Sans', Arial, sans-serif" font-size="24.8" fill="#1a1a1a" stroke="#1a1a1a" stroke-width="0.8">AFF2-9 - 355nt</text>
<text transform="translate(1478.4,1291) rotate(-90) scale(1,0.9)" font-family="'Liberation Sans', Arial, sans-serif" font-size="24.8" fill="#1a1a1a" stroke="#1a1a1a" stroke-width="0.8">AFF2-11 - 409nt</text>
<text transform="translate(1518.5,1291) rotate(-90) scale(1,0.9)" font-family="'Liberation Sans', Arial, sans-serif" font-size="24.8" fill="#1a1a1a" stroke="#1a1a1a" stroke-width="0.8">AFF2-15 - 436nt</text>
<text transform="translate(1558.6,1291) rotate(-90) scale(1,0.9)" font-family="'Liberation Sans', Arial, sans-serif" font-size="24.8" fill="#1a1a1a" stroke="#1a1a1a" stroke-width="0.8">AFF2-21 - 220nt</text>
<text transform="translate(1598.6,1291) rotate(-90) scale(1,0.9)" font-family="'Liberation Sans', Arial, sans-serif" font-size="24.8" fill="#1a1a1a" stroke="#1a1a1a" stroke-width="0.8">IDS-5 - 310nt</text>
<text transform="translate(1638.7,1291) rotate(-90) scale(1,0.9)" font-family="'Liberation Sans', Arial, sans-serif" font-size="24.8" fill="#1a1a1a" stroke="#1a1a1a" stroke-width="0.8">MTM1-3 - 138nt</text>
<text transform="translate(1678.8,1291) rotate(-90) scale(1,0.9)" font-family="'Liberation Sans', Arial, sans-serif" font-size="24.8" fill="#1a1a1a" stroke="#1a1a1a" stroke-width="0.8">ZFY-4 - 118nt</text>
<text transform="translate(1718.8,1291) rotate(-90) scale(1,0.9)" font-family="'Liberation Sans', Arial, sans-serif" font-size="24.8" fill="#1a1a1a" stroke="#1a1a1a" stroke-width="0.8">Reference* - 391nt</text>
<text transform="translate(1758.9,1291) rotate(-90) scale(1,0.9)" font-family="'Liberation Sans', Arial, sans-serif" font-size="24.8" fill="#1a1a1a" stroke="#1a1a1a" stroke-width="0.8">Reference* - 274nt</text>
<text transform="translate(1799,1291) rotate(-90) scale(1,0.9)" font-family="'Liberation Sans', Arial, sans-serif" font-size="24.8" fill="#1a1a1a" stroke="#1a1a1a" stroke-width="0.8">Reference*^ - 328nt</text>
<text transform="translate(1839.1,1291) rotate(-90) scale(1,0.9)" font-family="'Liberation Sans', Arial, sans-serif" font-size="24.8" fill="#1a1a1a" stroke="#1a1a1a" stroke-width="0.8">Reference*^ - 184nt</text>
<text transform="translate(1879.1,1291) rotate(-90) scale(1,0.9)" font-family="'Liberation Sans', Arial, sans-serif" font-size="24.8" fill="#1a1a1a" stroke="#1a1a1a" stroke-width="0.8">Reference* - 172nt</text>
<text transform="translate(1919.2,1291) rotate(-90) scale(1,0.9)" font-family="'Liberation Sans', Arial, sans-serif" font-size="24.8" fill="#1a1a1a" stroke="#1a1a1a" stroke-width="0.8">Reference* - 427nt</text>
<text transform="translate(1959.3,1291) rotate(-90) scale(1,0.9)" font-family="'Liberation Sans', Arial, sans-serif" font-size="24.8" fill="#1a1a1a" stroke="#1a1a1a" stroke-width="0.8">Reference* - 232nt</text>
<text transform="translate(1999.3,1291) rotate(-90) scale(1,0.9)" font-family="'Liberation Sans', Arial, sans-serif" font-size="24.8" fill="#1a1a1a" stroke="#1a1a1a" stroke-width="0.8">Reference* - 129nt</text>
<text transform="translate(2039.4,1291) rotate(-90) scale(1,0.9)" font-family="'Liberation Sans', Arial, sans-serif" font-size="24.8" fill="#1a1a1a" stroke="#1a1a1a" stroke-width="0.8">Reference* - 472nt</text>
<text transform="translate(2079.5,1291) rotate(-90) scale(1,0.9)" font-family="'Liberation Sans', Arial, sans-serif" font-size="24.8" fill="#1a1a1a" stroke="#1a1a1a" stroke-width="0.8">Reference* - 371nt</text>
<text transform="translate(2119.5,1291) rotate(-90) scale(1,0.9)" font-family="'Liberation Sans', Arial, sans-serif" font-size="24.8" fill="#1a1a1a" stroke="#1a1a1a" stroke-width="0.8">Reference* - 265nt</text>
<text transform="translate(2159.6,1291) rotate(-90) scale(1,0.9)" font-family="'Liberation Sans', Arial, sans-serif" font-size="24.8" fill="#1a1a1a" stroke="#1a1a1a" stroke-width="0.8">Reference* - 208nt</text>
<text transform="translate(2199.7,1291) rotate(-90) scale(1,0.9)" font-family="'Liberation Sans', Arial, sans-serif" font-size="24.8" fill="#1a1a1a" stroke="#1a1a1a" stroke-width="0.8">Reference* - 445nt</text>
<text x="1226" y="1033" text-anchor="middle" font-family="'Liberation Sans', Arial, sans-serif" font-weight="bold" font-size="42" fill="#000">UNCUT</text>
<line x1="349" y1="1157" x2="349" y2="1855" stroke="#f03a3a" stroke-width="3"/>
<line x1="351.6" y1="1157" x2="351.6" y2="1853" stroke="#d88a98" stroke-width="2.2"/>
<line x1="327" y1="1853.5" x2="349" y2="1853.5" stroke="#4a4a4a" stroke-width="3"/>
<text transform="translate(321,1861.7) scale(0.86,1)" text-anchor="end" font-family="'Liberation Sans', Arial, sans-serif" font-weight="bold" font-size="29.5" fill="#3c3c46">0</text>
<line x1="327" y1="1733" x2="349" y2="1733" stroke="#4a4a4a" stroke-width="3"/>
<text transform="translate(321,1741.2) scale(0.86,1)" text-anchor="end" font-family="'Liberation Sans', Arial, sans-serif" font-weight="bold" font-size="29.5" fill="#3c3c46">0,5</text>
<line x1="327" y1="1612.5" x2="349" y2="1612.5" stroke="#4a4a4a" stroke-width="3"/>
<text transform="translate(321,1620.7) scale(0.86,1)" text-anchor="end" font-family="'Liberation Sans', Arial, sans-serif" font-weight="bold" font-size="29.5" fill="#3c3c46">1</text>
<line x1="327" y1="1492" x2="349" y2="1492" stroke="#4a4a4a" stroke-width="3"/>
<text transform="translate(321,1500.2) scale(0.86,1)" text-anchor="end" font-family="'Liberation Sans', Arial, sans-serif" font-weight="bold" font-size="29.5" fill="#3c3c46">1,5</text>
<line x1="327" y1="1371.5" x2="349" y2="1371.5" stroke="#4a4a4a" stroke-width="3"/>
<text transform="translate(321,1379.7) scale(0.86,1)" text-anchor="end" font-family="'Liberation Sans', Arial, sans-serif" font-weight="bold" font-size="29.5" fill="#3c3c46">2</text>
<line x1="327" y1="1251" x2="349" y2="1251" stroke="#4a4a4a" stroke-width="3"/>
<text transform="translate(321,1259.2) scale(0.86,1)" text-anchor="end" font-family="'Liberation Sans', Arial, sans-serif" font-weight="bold" font-size="29.5" fill="#3c3c46">2,5</text>
<text transform="translate(251,1473) rotate(-90)" text-anchor="middle" font-family="'Liberation Sans', Arial, sans-serif" font-weight="bold" font-size="50" fill="#000" textLength="122" lengthAdjust="spacingAndGlyphs">Ratio</text>
<line x1="326" y1="1853.5" x2="2233" y2="1853.5" stroke="#555" stroke-width="3.5"/>
<line x1="349.5" y1="1853" x2="349.5" y2="1875" stroke="#4a4a4a" stroke-width="3.5"/>
<line x1="389" y1="1853" x2="389" y2="1875" stroke="#4a4a4a" stroke-width="3.5"/>
<line x1="429.1" y1="1853" x2="429.1" y2="1875" stroke="#4a4a4a" stroke-width="3.5"/>
<line x1="469.2" y1="1853" x2="469.2" y2="1875" stroke="#4a4a4a" stroke-width="3.5"/>
<line x1="509.2" y1="1853" x2="509.2" y2="1875" stroke="#4a4a4a" stroke-width="3.5"/>
<line x1="549.3" y1="1853" x2="549.3" y2="1875" stroke="#4a4a4a" stroke-width="3.5"/>
<line x1="589.4" y1="1853" x2="589.4" y2="1875" stroke="#4a4a4a" stroke-width="3.5"/>
<line x1="629.5" y1="1853" x2="629.5" y2="1875" stroke="#4a4a4a" stroke-width="3.5"/>
<line x1="669.5" y1="1853" x2="669.5" y2="1875" stroke="#4a4a4a" stroke-width="3.5"/>
<line x1="709.6" y1="1853" x2="709.6" y2="1875" stroke="#4a4a4a" stroke-width="3.5"/>
<line x1="749.7" y1="1853" x2="749.7" y2="1875" stroke="#4a4a4a" stroke-width="3.5"/>
<line x1="789.7" y1="1853" x2="789.7" y2="1875" stroke="#4a4a4a" stroke-width="3.5"/>
<line x1="829.8" y1="1853" x2="829.8" y2="1875" stroke="#4a4a4a" stroke-width="3.5"/>
<line x1="869.9" y1="1853" x2="869.9" y2="1875" stroke="#4a4a4a" stroke-width="3.5"/>
<line x1="909.9" y1="1853" x2="909.9" y2="1875" stroke="#4a4a4a" stroke-width="3.5"/>
<line x1="950" y1="1853" x2="950" y2="1875" stroke="#4a4a4a" stroke-width="3.5"/>
<line x1="990.1" y1="1853" x2="990.1" y2="1875" stroke="#4a4a4a" stroke-width="3.5"/>
<line x1="1030.2" y1="1853" x2="1030.2" y2="1875" stroke="#4a4a4a" stroke-width="3.5"/>
<line x1="1070.2" y1="1853" x2="1070.2" y2="1875" stroke="#4a4a4a" stroke-width="3.5"/>
<line x1="1110.3" y1="1853" x2="1110.3" y2="1875" stroke="#4a4a4a" stroke-width="3.5"/>
<line x1="1150.4" y1="1853" x2="1150.4" y2="1875" stroke="#4a4a4a" stroke-width="3.5"/>
<line x1="1190.4" y1="1853" x2="1190.4" y2="1875" stroke="#4a4a4a" stroke-width="3.5"/>
<line x1="1230.5" y1="1853" x2="1230.5" y2="1875" stroke="#4a4a4a" stroke-width="3.5"/>
<line x1="1270.6" y1="1853" x2="1270.6" y2="1875" stroke="#4a4a4a" stroke-width="3.5"/>
<line x1="1310.6" y1="1853" x2="1310.6" y2="1875" stroke="#4a4a4a" stroke-width="3.5"/>
<line x1="1350.7" y1="1853" x2="1350.7" y2="1875" stroke="#4a4a4a" stroke-width="3.5"/>
<line x1="1390.8" y1="1853" x2="1390.8" y2="1875" stroke="#4a4a4a" stroke-width="3.5"/>
<line x1="1430.9" y1="1853" x2="1430.9" y2="1875" stroke="#4a4a4a" stroke-width="3.5"/>
<line x1="1470.9" y1="1853" x2="1470.9" y2="1875" stroke="#4a4a4a" stroke-width="3.5"/>
<line x1="1511" y1="1853" x2="1511" y2="1875" stroke="#4a4a4a" stroke-width="3.5"/>
<line x1="1551.1" y1="1853" x2="1551.1" y2="1875" stroke="#4a4a4a" stroke-width="3.5"/>
<line x1="1591.1" y1="1853" x2="1591.1" y2="1875" stroke="#4a4a4a" stroke-width="3.5"/>
<line x1="1631.2" y1="1853" x2="1631.2" y2="1875" stroke="#4a4a4a" stroke-width="3.5"/>
<line x1="1671.3" y1="1853" x2="1671.3" y2="1875" stroke="#4a4a4a" stroke-width="3.5"/>
<line x1="1711.3" y1="1853" x2="1711.3" y2="1875" stroke="#4a4a4a" stroke-width="3.5"/>
<line x1="1751.4" y1="1853" x2="1751.4" y2="1875" stroke="#4a4a4a" stroke-width="3.5"/>
<line x1="1791.5" y1="1853" x2="1791.5" y2="1875" stroke="#4a4a4a" stroke-width="3.5"/>
<line x1="1831.6" y1="1853" x2="1831.6" y2="1875" stroke="#4a4a4a" stroke-width="3.5"/>
<line x1="1871.6" y1="1853" x2="1871.6" y2="1875" stroke="#4a4a4a" stroke-width="3.5"/>
<line x1="1911.7" y1="1853" x2="1911.7" y2="1875" stroke="#4a4a4a" stroke-width="3.5"/>
<line x1="1951.8" y1="1853" x2="1951.8" y2="1875" stroke="#4a4a4a" stroke-width="3.5"/>
<line x1="1991.8" y1="1853" x2="1991.8" y2="1875" stroke="#4a4a4a" stroke-width="3.5"/>
<line x1="2031.9" y1="1853" x2="2031.9" y2="1875" stroke="#4a4a4a" stroke-width="3.5"/>
<line x1="2072" y1="1853" x2="2072" y2="1875" stroke="#4a4a4a" stroke-width="3.5"/>
<line x1="2112" y1="1853" x2="2112" y2="1875" stroke="#4a4a4a" stroke-width="3.5"/>
<line x1="2152.1" y1="1853" x2="2152.1" y2="1875" stroke="#4a4a4a" stroke-width="3.5"/>
<line x1="2192.2" y1="1853" x2="2192.2" y2="1875" stroke="#4a4a4a" stroke-width="3.5"/>
<line x1="2232" y1="1853" x2="2232" y2="1875" stroke="#4a4a4a" stroke-width="3.5"/>
<rect x="372" y="1574.5" width="34" height="72.5" fill="#a8daf0" stroke="#2f4a50" stroke-width="3"/><line x1="389" y1="1559" x2="389" y2="1639" stroke="#5d4d47" stroke-width="3"/><line x1="373" y1="1559" x2="405" y2="1559" stroke="#5d4d47" stroke-width="3.5"/><line x1="373" y1="1639" x2="405" y2="1639" stroke="#5d4d47" stroke-width="3.5"/>
<rect x="412.1" y="1585" width="34" height="43" fill="#a8daf0" stroke="#2f4a50" stroke-width="3"/><line x1="429.1" y1="1585" x2="429.1" y2="1628" stroke="#5d4d47" stroke-width="3"/><line x1="413.1" y1="1585" x2="445.1" y2="1585" stroke="#5d4d47" stroke-width="3.5"/><line x1="413.1" y1="1628" x2="445.1" y2="1628" stroke="#5d4d47" stroke-width="3.5"/>
<rect x="452.2" y="1587" width="34" height="34" fill="#a8daf0" stroke="#2f4a50" stroke-width="3"/><line x1="469.2" y1="1587" x2="469.2" y2="1633" stroke="#5d4d47" stroke-width="3"/><line x1="453.2" y1="1587" x2="485.2" y2="1587" stroke="#5d4d47" stroke-width="3.5"/><line x1="453.2" y1="1633" x2="485.2" y2="1633" stroke="#5d4d47" stroke-width="3.5"/>
<rect x="492.2" y="1588" width="34" height="49.5" fill="#a8daf0" stroke="#2f4a50" stroke-width="3"/><line x1="509.2" y1="1588" x2="509.2" y2="1653" stroke="#5d4d47" stroke-width="3"/><line x1="492.2" y1="1593" x2="526.2" y2="1593" stroke="#2f4a50" stroke-width="3"/><line x1="493.2" y1="1588" x2="525.2" y2="1588" stroke="#5d4d47" stroke-width="3.5"/><line x1="493.2" y1="1653" x2="525.2" y2="1653" stroke="#5d4d47" stroke-width="3.5"/>
<rect x="532.3" y="1577" width="34" height="66" fill="#a8daf0" stroke="#2f4a50" stroke-width="3"/><line x1="549.3" y1="1562" x2="549.3" y2="1650" stroke="#5d4d47" stroke-width="3"/><line x1="533.3" y1="1562" x2="565.3" y2="1562" stroke="#5d4d47" stroke-width="3.5"/><line x1="533.3" y1="1650" x2="565.3" y2="1650" stroke="#5d4d47" stroke-width="3.5"/>
<rect x="572.4" y="1575" width="34" height="71" fill="#a8daf0" stroke="#2f4a50" stroke-width="3"/><line x1="589.4" y1="1550" x2="589.4" y2="1646" stroke="#5d4d47" stroke-width="3"/><line x1="572.4" y1="1607" x2="606.4" y2="1607" stroke="#2f4a50" stroke-width="3"/><line x1="573.4" y1="1550" x2="605.4" y2="1550" stroke="#5d4d47" stroke-width="3.5"/><line x1="573.4" y1="1646" x2="605.4" y2="1646" stroke="#5d4d47" stroke-width="3.5"/>
<rect x="612.5" y="1595.5" width="34" height="33.5" fill="#a8daf0" stroke="#2f4a50" stroke-width="3"/><line x1="629.5" y1="1587" x2="629.5" y2="1641.6" stroke="#5d4d47" stroke-width="3"/><line x1="613.5" y1="1587" x2="645.5" y2="1587" stroke="#5d4d47" stroke-width="3.5"/><line x1="613.5" y1="1641.6" x2="645.5" y2="1641.6" stroke="#5d4d47" stroke-width="3.5"/>
<rect x="652.5" y="1593" width="34" height="43" fill="#a8daf0" stroke="#2f4a50" stroke-width="3"/><line x1="669.5" y1="1593" x2="669.5" y2="1636" stroke="#5d4d47" stroke-width="3"/><line x1="653.5" y1="1593" x2="685.5" y2="1593" stroke="#5d4d47" stroke-width="3.5"/><line x1="653.5" y1="1636" x2="685.5" y2="1636" stroke="#5d4d47" stroke-width="3.5"/>
<rect x="692.6" y="1595.5" width="34" height="30.5" fill="#a8daf0" stroke="#2f4a50" stroke-width="3"/><line x1="709.6" y1="1582" x2="709.6" y2="1634.6" stroke="#5d4d47" stroke-width="3"/><line x1="693.6" y1="1582" x2="725.6" y2="1582" stroke="#5d4d47" stroke-width="3.5"/><line x1="693.6" y1="1634.6" x2="725.6" y2="1634.6" stroke="#5d4d47" stroke-width="3.5"/>
<rect x="732.7" y="1599" width="34" height="27" fill="#a8daf0" stroke="#2f4a50" stroke-width="3"/><line x1="749.7" y1="1599" x2="749.7" y2="1639" stroke="#5d4d47" stroke-width="3"/><line x1="733.7" y1="1599" x2="765.7" y2="1599" stroke="#5d4d47" stroke-width="3.5"/><line x1="733.7" y1="1639" x2="765.7" y2="1639" stroke="#5d4d47" stroke-width="3.5"/>
<rect x="772.7" y="1600" width="34" height="22" fill="#a8daf0" stroke="#2f4a50" stroke-width="3"/><line x1="789.7" y1="1591" x2="789.7" y2="1630.5" stroke="#5d4d47" stroke-width="3"/><line x1="773.7" y1="1591" x2="805.7" y2="1591" stroke="#5d4d47" stroke-width="3.5"/><line x1="773.7" y1="1630.5" x2="805.7" y2="1630.5" stroke="#5d4d47" stroke-width="3.5"/>
<rect x="812.8" y="1559" width="34" height="101" fill="#a8daf0" stroke="#2f4a50" stroke-width="3"/><line x1="829.8" y1="1559" x2="829.8" y2="1678" stroke="#5d4d47" stroke-width="3"/><line x1="812.8" y1="1580" x2="846.8" y2="1580" stroke="#2f4a50" stroke-width="3"/><line x1="813.8" y1="1559" x2="845.8" y2="1559" stroke="#5d4d47" stroke-width="3.5"/><line x1="813.8" y1="1678" x2="845.8" y2="1678" stroke="#5d4d47" stroke-width="3.5"/>
<rect x="852.9" y="1578" width="34" height="68" fill="#a8daf0" stroke="#2f4a50" stroke-width="3"/><line x1="869.9" y1="1578" x2="869.9" y2="1666.6" stroke="#5d4d47" stroke-width="3"/><line x1="852.9" y1="1593" x2="886.9" y2="1593" stroke="#2f4a50" stroke-width="3"/><line x1="853.9" y1="1578" x2="885.9" y2="1578" stroke="#5d4d47" stroke-width="3.5"/><line x1="853.9" y1="1666.6" x2="885.9" y2="1666.6" stroke="#5d4d47" stroke-width="3.5"/>
<rect x="892.9" y="1600" width="34" height="22" fill="#a8daf0" stroke="#2f4a50" stroke-width="3"/><line x1="909.9" y1="1591" x2="909.9" y2="1632" stroke="#5d4d47" stroke-width="3"/><line x1="893.9" y1="1591" x2="925.9" y2="1591" stroke="#5d4d47" stroke-width="3.5"/><line x1="893.9" y1="1632" x2="925.9" y2="1632" stroke="#5d4d47" stroke-width="3.5"/>
<rect x="933" y="1598" width="34" height="31" fill="#a8daf0" stroke="#2f4a50" stroke-width="3"/><line x1="950" y1="1589" x2="950" y2="1630" stroke="#5d4d47" stroke-width="3"/><line x1="934" y1="1589" x2="966" y2="1589" stroke="#5d4d47" stroke-width="3.5"/><line x1="934" y1="1630" x2="966" y2="1630" stroke="#5d4d47" stroke-width="3.5"/>
<rect x="973.1" y="1600" width="34" height="25" fill="#a8daf0" stroke="#2f4a50" stroke-width="3"/><line x1="990.1" y1="1597" x2="990.1" y2="1637.5" stroke="#5d4d47" stroke-width="3"/><line x1="974.1" y1="1597" x2="1006.1" y2="1597" stroke="#5d4d47" stroke-width="3.5"/><line x1="974.1" y1="1637.5" x2="1006.1" y2="1637.5" stroke="#5d4d47" stroke-width="3.5"/>
<rect x="1013.2" y="1593" width="34" height="38.6" fill="#a8daf0" stroke="#2f4a50" stroke-width="3"/><line x1="1030.2" y1="1593" x2="1030.2" y2="1644" stroke="#5d4d47" stroke-width="3"/><line x1="1014.2" y1="1593" x2="1046.2" y2="1593" stroke="#5d4d47" stroke-width="3.5"/><line x1="1014.2" y1="1644" x2="1046.2" y2="1644" stroke="#5d4d47" stroke-width="3.5"/>
<rect x="1053.2" y="1590" width="34" height="38" fill="#a8daf0" stroke="#2f4a50" stroke-width="3"/><line x1="1070.2" y1="1590" x2="1070.2" y2="1628" stroke="#5d4d47" stroke-width="3"/><line x1="1054.2" y1="1590" x2="1086.2" y2="1590" stroke="#5d4d47" stroke-width="3.5"/><line x1="1054.2" y1="1628" x2="1086.2" y2="1628" stroke="#5d4d47" stroke-width="3.5"/>
<rect x="1093.3" y="1582" width="34" height="46" fill="#a8daf0" stroke="#2f4a50" stroke-width="3"/><line x1="1110.3" y1="1582" x2="1110.3" y2="1628" stroke="#5d4d47" stroke-width="3"/><line x1="1094.3" y1="1582" x2="1126.3" y2="1582" stroke="#5d4d47" stroke-width="3.5"/><line x1="1094.3" y1="1628" x2="1126.3" y2="1628" stroke="#5d4d47" stroke-width="3.5"/>
<rect x="1133.4" y="1598" width="34" height="24" fill="#a8daf0" stroke="#2f4a50" stroke-width="3"/><line x1="1150.4" y1="1589" x2="1150.4" y2="1633" stroke="#5d4d47" stroke-width="3"/><line x1="1134.4" y1="1589" x2="1166.4" y2="1589" stroke="#5d4d47" stroke-width="3.5"/><line x1="1134.4" y1="1633" x2="1166.4" y2="1633" stroke="#5d4d47" stroke-width="3.5"/>
<rect x="1173.4" y="1563" width="34" height="91" fill="#a8daf0" stroke="#2f4a50" stroke-width="3"/><line x1="1190.4" y1="1563" x2="1190.4" y2="1662.6" stroke="#5d4d47" stroke-width="3"/><line x1="1174.4" y1="1563" x2="1206.4" y2="1563" stroke="#5d4d47" stroke-width="3.5"/><line x1="1174.4" y1="1662.6" x2="1206.4" y2="1662.6" stroke="#5d4d47" stroke-width="3.5"/>
<rect x="1213.5" y="1581.5" width="34" height="64.1" fill="#a8daf0" stroke="#2f4a50" stroke-width="3"/><line x1="1230.5" y1="1563" x2="1230.5" y2="1645.6" stroke="#5d4d47" stroke-width="3"/><line x1="1214.5" y1="1563" x2="1246.5" y2="1563" stroke="#5d4d47" stroke-width="3.5"/><line x1="1214.5" y1="1645.6" x2="1246.5" y2="1645.6" stroke="#5d4d47" stroke-width="3.5"/>
<rect x="1253.6" y="1579" width="34" height="63" fill="#a8daf0" stroke="#2f4a50" stroke-width="3"/><line x1="1270.6" y1="1566" x2="1270.6" y2="1642" stroke="#5d4d47" stroke-width="3"/><line x1="1254.6" y1="1566" x2="1286.6" y2="1566" stroke="#5d4d47" stroke-width="3.5"/><line x1="1254.6" y1="1642" x2="1286.6" y2="1642" stroke="#5d4d47" stroke-width="3.5"/>
<rect x="1293.6" y="1598" width="34" height="26.6" fill="#a8daf0" stroke="#2f4a50" stroke-width="3"/><line x1="1310.6" y1="1598" x2="1310.6" y2="1644" stroke="#5d4d47" stroke-width="3"/><line x1="1294.6" y1="1598" x2="1326.6" y2="1598" stroke="#5d4d47" stroke-width="3.5"/><line x1="1294.6" y1="1644" x2="1326.6" y2="1644" stroke="#5d4d47" stroke-width="3.5"/>
<rect x="1333.7" y="1581.5" width="34" height="58.5" fill="#a8daf0" stroke="#2f4a50" stroke-width="3"/><line x1="1350.7" y1="1568.7" x2="1350.7" y2="1646.8" stroke="#5d4d47" stroke-width="3"/><line x1="1334.7" y1="1568.7" x2="1366.7" y2="1568.7" stroke="#5d4d47" stroke-width="3.5"/><line x1="1334.7" y1="1646.8" x2="1366.7" y2="1646.8" stroke="#5d4d47" stroke-width="3.5"/>
<rect x="1373.8" y="1581.5" width="34" height="60.5" fill="#a8daf0" stroke="#2f4a50" stroke-width="3"/><line x1="1390.8" y1="1561.7" x2="1390.8" y2="1642" stroke="#5d4d47" stroke-width="3"/><line x1="1374.8" y1="1561.7" x2="1406.8" y2="1561.7" stroke="#5d4d47" stroke-width="3.5"/><line x1="1374.8" y1="1642" x2="1406.8" y2="1642" stroke="#5d4d47" stroke-width="3.5"/>
<rect x="1413.9" y="1600" width="34" height="25" fill="#a8daf0" stroke="#2f4a50" stroke-width="3"/><line x1="1430.9" y1="1595.5" x2="1430.9" y2="1632" stroke="#5d4d47" stroke-width="3"/><line x1="1414.9" y1="1595.5" x2="1446.9" y2="1595.5" stroke="#5d4d47" stroke-width="3.5"/><line x1="1414.9" y1="1632" x2="1446.9" y2="1632" stroke="#5d4d47" stroke-width="3.5"/>
<rect x="1453.9" y="1596" width="34" height="31" fill="#a8daf0" stroke="#2f4a50" stroke-width="3"/><line x1="1470.9" y1="1577.7" x2="1470.9" y2="1636.6" stroke="#5d4d47" stroke-width="3"/><line x1="1454.9" y1="1577.7" x2="1486.9" y2="1577.7" stroke="#5d4d47" stroke-width="3.5"/><line x1="1454.9" y1="1636.6" x2="1486.9" y2="1636.6" stroke="#5d4d47" stroke-width="3.5"/>
<rect x="1494" y="1591" width="34" height="40" fill="#a8daf0" stroke="#2f4a50" stroke-width="3"/><line x1="1511" y1="1575" x2="1511" y2="1631" stroke="#5d4d47" stroke-width="3"/><line x1="1495" y1="1575" x2="1527" y2="1575" stroke="#5d4d47" stroke-width="3.5"/><line x1="1495" y1="1631" x2="1527" y2="1631" stroke="#5d4d47" stroke-width="3.5"/>
<rect x="1534.1" y="1579.6" width="34" height="61.4" fill="#a8daf0" stroke="#2f4a50" stroke-width="3"/><line x1="1551.1" y1="1557" x2="1551.1" y2="1641" stroke="#5d4d47" stroke-width="3"/><line x1="1535.1" y1="1557" x2="1567.1" y2="1557" stroke="#5d4d47" stroke-width="3.5"/><line x1="1535.1" y1="1641" x2="1567.1" y2="1641" stroke="#5d4d47" stroke-width="3.5"/>
<rect x="1574.1" y="1594" width="34" height="38" fill="#a8daf0" stroke="#2f4a50" stroke-width="3"/><line x1="1591.1" y1="1584.7" x2="1591.1" y2="1632" stroke="#5d4d47" stroke-width="3"/><line x1="1575.1" y1="1584.7" x2="1607.1" y2="1584.7" stroke="#5d4d47" stroke-width="3.5"/><line x1="1575.1" y1="1632" x2="1607.1" y2="1632" stroke="#5d4d47" stroke-width="3.5"/>
<rect x="1614.2" y="1569" width="34" height="84" fill="#a8daf0" stroke="#2f4a50" stroke-width="3"/><line x1="1631.2" y1="1550.4" x2="1631.2" y2="1653" stroke="#5d4d47" stroke-width="3"/><line x1="1615.2" y1="1550.4" x2="1647.2" y2="1550.4" stroke="#5d4d47" stroke-width="3.5"/><line x1="1615.2" y1="1653" x2="1647.2" y2="1653" stroke="#5d4d47" stroke-width="3.5"/>
<rect x="1653.3" y="1407" width="36" height="345" fill="#90d8f4" stroke="#2f4a50" stroke-width="3"/><line x1="1671.3" y1="1297" x2="1671.3" y2="1780" stroke="#5f5f5f" stroke-width="3"/><line x1="1655.3" y1="1297" x2="1687.3" y2="1297" stroke="#5f5f5f" stroke-width="3.5"/><line x1="1655.3" y1="1780" x2="1687.3" y2="1780" stroke="#5f5f5f" stroke-width="3.5"/>
<line x1="1711.3" y1="1589" x2="1711.3" y2="1630" stroke="#5f5f5f" stroke-width="3"/><line x1="1695.3" y1="1589" x2="1727.3" y2="1589" stroke="#5f5f5f" stroke-width="3.5"/><line x1="1695.3" y1="1630" x2="1727.3" y2="1630" stroke="#5f5f5f" stroke-width="3.5"/>
<rect x="1734.4" y="1595" width="34" height="33" fill="#12dc72" stroke="#1e4a2a" stroke-width="3"/><line x1="1751.4" y1="1582" x2="1751.4" y2="1639" stroke="#5f5f5f" stroke-width="3"/><line x1="1735.4" y1="1582" x2="1767.4" y2="1582" stroke="#5f5f5f" stroke-width="3.5"/><line x1="1735.4" y1="1639" x2="1767.4" y2="1639" stroke="#5f5f5f" stroke-width="3.5"/>
<rect x="1774.5" y="1591" width="34" height="43.5" fill="#12dc72" stroke="#1e4a2a" stroke-width="3"/><line x1="1791.5" y1="1591" x2="1791.5" y2="1650" stroke="#5f5f5f" stroke-width="3"/><line x1="1775.5" y1="1591" x2="1807.5" y2="1591" stroke="#5f5f5f" stroke-width="3.5"/><line x1="1775.5" y1="1650" x2="1807.5" y2="1650" stroke="#5f5f5f" stroke-width="3.5"/>
<rect x="1814.6" y="1594" width="34" height="26.6" fill="#12dc72" stroke="#1e4a2a" stroke-width="3"/><line x1="1831.6" y1="1585" x2="1831.6" y2="1630" stroke="#5f5f5f" stroke-width="3"/><line x1="1815.6" y1="1585" x2="1847.6" y2="1585" stroke="#5f5f5f" stroke-width="3.5"/><line x1="1815.6" y1="1630" x2="1847.6" y2="1630" stroke="#5f5f5f" stroke-width="3.5"/>
<rect x="1854.6" y="1593.5" width="34" height="36.5" fill="#12dc72" stroke="#1e4a2a" stroke-width="3"/><line x1="1871.6" y1="1593.5" x2="1871.6" y2="1639" stroke="#5f5f5f" stroke-width="3"/><line x1="1855.6" y1="1593.5" x2="1887.6" y2="1593.5" stroke="#5f5f5f" stroke-width="3.5"/><line x1="1855.6" y1="1639" x2="1887.6" y2="1639" stroke="#5f5f5f" stroke-width="3.5"/>
<rect x="1894.7" y="1582" width="34" height="58" fill="#12dc72" stroke="#1e4a2a" stroke-width="3"/><line x1="1911.7" y1="1571" x2="1911.7" y2="1640" stroke="#5f5f5f" stroke-width="3"/><line x1="1895.7" y1="1571" x2="1927.7" y2="1571" stroke="#5f5f5f" stroke-width="3.5"/><line x1="1895.7" y1="1640" x2="1927.7" y2="1640" stroke="#5f5f5f" stroke-width="3.5"/>
<line x1="1951.8" y1="1593.5" x2="1951.8" y2="1630" stroke="#5f5f5f" stroke-width="3"/><line x1="1935.8" y1="1593.5" x2="1967.8" y2="1593.5" stroke="#5f5f5f" stroke-width="3.5"/><line x1="1935.8" y1="1630" x2="1967.8" y2="1630" stroke="#5f5f5f" stroke-width="3.5"/>
<rect x="1974.8" y="1588" width="34" height="47" fill="#12dc72" stroke="#1e4a2a" stroke-width="3"/><line x1="1991.8" y1="1579.5" x2="1991.8" y2="1635" stroke="#5f5f5f" stroke-width="3"/><line x1="1975.8" y1="1579.5" x2="2007.8" y2="1579.5" stroke="#5f5f5f" stroke-width="3.5"/><line x1="1975.8" y1="1635" x2="2007.8" y2="1635" stroke="#5f5f5f" stroke-width="3.5"/>
<rect x="2014.9" y="1584" width="34" height="56" fill="#12dc72" stroke="#1e4a2a" stroke-width="3"/><line x1="2031.9" y1="1555" x2="2031.9" y2="1640" stroke="#5f5f5f" stroke-width="3"/><line x1="2014.9" y1="1625" x2="2048.9" y2="1625" stroke="#1e4a2a" stroke-width="3"/><line x1="2014.9" y1="1632" x2="2048.9" y2="1632" stroke="#1e4a2a" stroke-width="3"/><line x1="2015.9" y1="1555" x2="2047.9" y2="1555" stroke="#5f5f5f" stroke-width="3.5"/><line x1="2015.9" y1="1640" x2="2047.9" y2="1640" stroke="#5f5f5f" stroke-width="3.5"/>
<rect x="2055" y="1595" width="34" height="35" fill="#12dc72" stroke="#1e4a2a" stroke-width="3"/><line x1="2072" y1="1585" x2="2072" y2="1640" stroke="#5f5f5f" stroke-width="3"/><line x1="2056" y1="1585" x2="2088" y2="1585" stroke="#5f5f5f" stroke-width="3.5"/><line x1="2056" y1="1640" x2="2088" y2="1640" stroke="#5f5f5f" stroke-width="3.5"/>
<rect x="2095" y="1599" width="34" height="35.5" fill="#12dc72" stroke="#1e4a2a" stroke-width="3"/><line x1="2112" y1="1599" x2="2112" y2="1634.5" stroke="#5f5f5f" stroke-width="3"/><line x1="2096" y1="1599" x2="2128" y2="1599" stroke="#5f5f5f" stroke-width="3.5"/><line x1="2096" y1="1634.5" x2="2128" y2="1634.5" stroke="#5f5f5f" stroke-width="3.5"/>
<rect x="2135.1" y="1587" width="34" height="50" fill="#12dc72" stroke="#1e4a2a" stroke-width="3"/><line x1="2152.1" y1="1579.5" x2="2152.1" y2="1637" stroke="#5f5f5f" stroke-width="3"/><line x1="2136.1" y1="1579.5" x2="2168.1" y2="1579.5" stroke="#5f5f5f" stroke-width="3.5"/><line x1="2136.1" y1="1637" x2="2168.1" y2="1637" stroke="#5f5f5f" stroke-width="3.5"/>
<rect x="2175.2" y="1585.6" width="34" height="56.4" fill="#12dc72" stroke="#1e4a2a" stroke-width="3"/><line x1="2192.2" y1="1566" x2="2192.2" y2="1642" stroke="#5f5f5f" stroke-width="3"/><line x1="2176.2" y1="1566" x2="2208.2" y2="1566" stroke="#5f5f5f" stroke-width="3.5"/><line x1="2176.2" y1="1642" x2="2208.2" y2="1642" stroke="#5f5f5f" stroke-width="3.5"/>
<polyline points="391,1540.8 431,1540.8 471,1540.8 511,1540.8 551,1540.8 591,1540.8 631,1540.8 671,1540.8 711,1540.8 751,1540.8 791,1540.8 831,1540.8 871,1540.8 911,1540.8 951,1540.8 991,1540.8 1031,1540.8 1071,1540.8 1111,1540.8 1151,1540.8 1191,1540.8 1231,1540.8 1271,1540.8 1311,1540.8 1351,1540.8 1391,1540.8 1431,1540.8 1471,1540.8 1511,1540.8 1551,1540.8 1591,1540.8 1631,1539.8 1633,1539.4 1635,1538.8 1637,1538.1 1639,1537.3 1641,1536.2 1643,1534.9 1645,1533.3 1647,1531.5 1649,1529.5 1651,1527.2 1653,1524.8 1655,1522.2 1657,1519.5 1659,1516.9 1661,1514.4 1663,1512.1 1665,1510.1 1667,1508.5 1669,1507.4 1671,1506.9 1673,1506.9 1675,1507.4 1677,1508.5 1679,1510.1 1681,1512.1 1683,1514.4 1685,1516.9 1687,1519.5 1689,1522.2 1691,1524.8 1693,1527.2 1695,1529.5 1697,1531.5 1699,1533.3 1701,1534.9 1703,1536.2 1705,1537.3 1707,1538.1 1709,1538.8 1711,1539.4 1713,1539.8 1715,1540.1 1717,1540.3 1719,1540.5 1721,1540.6 1723,1540.6 1725,1540.7 1727,1540.7 1729,1540.8 1731,1540.8 1733,1540.8 1735,1540.8 1737,1540.8 1739,1540.8 1741,1540.8 1743,1540.8 1745,1540.8 1747,1540.8 1749,1540.8 1751,1540.8 1791,1540.8 1831,1540.8 1871,1540.8 1911,1540.8 1951,1540.8 1991,1540.8 2031,1540.8 2071,1540.8 2111,1540.8 2151,1540.8 2191,1540.8" fill="none" stroke="#4a3ee0" stroke-width="3" stroke-opacity="0.85"/>
<polyline points="391,1684.8 431,1684.8 471,1684.8 511,1684.8 551,1684.8 591,1684.8 631,1684.8 671,1684.8 711,1684.8 751,1684.8 791,1684.8 831,1684.8 871,1684.8 911,1684.8 951,1684.8 991,1684.8 1031,1684.8 1071,1684.8 1111,1684.8 1151,1684.8 1191,1684.8 1231,1684.8 1271,1684.8 1311,1684.8 1351,1684.8 1391,1684.8 1431,1684.8 1471,1684.8 1511,1684.8 1551,1684.8 1591,1684.8 1631,1683.8 1633,1683.4 1635,1682.8 1637,1682.1 1639,1681.3 1641,1680.2 1643,1678.9 1645,1677.3 1647,1675.5 1649,1673.5 1651,1671.2 1653,1668.8 1655,1666.2 1657,1663.5 1659,1660.9 1661,1658.4 1663,1656.1 1665,1654.1 1667,1652.5 1669,1651.4 1671,1650.9 1673,1650.9 1675,1651.4 1677,1652.5 1679,1654.1 1681,1656.1 1683,1658.4 1685,1660.9 1687,1663.5 1689,1666.2 1691,1668.8 1693,1671.2 1695,1673.5 1697,1675.5 1699,1677.3 1701,1678.9 1703,1680.2 1705,1681.3 1707,1682.1 1709,1682.8 1711,1683.4 1713,1683.8 1715,1684.1 1717,1684.3 1719,1684.5 1721,1684.6 1723,1684.6 1725,1684.7 1727,1684.7 1729,1684.8 1731,1684.8 1733,1684.8 1735,1684.8 1737,1684.8 1739,1684.8 1741,1684.8 1743,1684.8 1745,1684.8 1747,1684.8 1749,1684.8 1751,1684.8 1791,1684.8 1831,1684.8 1871,1684.8 1911,1684.8 1951,1684.8 1991,1684.8 2031,1684.8 2071,1684.8 2111,1684.8 2151,1684.8 2191,1684.8" fill="none" stroke="#ff4a3a" stroke-width="3" stroke-opacity="0.9"/>
<circle cx="389" cy="1599" r="14.5" fill="#050000" stroke="#c80000" stroke-width="2.4"/>
<circle cx="429.1" cy="1606" r="14.5" fill="#050000" stroke="#c80000" stroke-width="2.4"/>
<circle cx="469.2" cy="1609.5" r="14.5" fill="#050000" stroke="#c80000" stroke-width="2.4"/>
<circle cx="509.2" cy="1624.6" r="14.5" fill="#050000" stroke="#c80000" stroke-width="2.4"/>
<circle cx="549.3" cy="1607" r="14.5" fill="#050000" stroke="#c80000" stroke-width="2.4"/>
<circle cx="589.4" cy="1590" r="14.5" fill="#050000" stroke="#c80000" stroke-width="2.4"/>
<path d="M589.4,1605.4 L595,1611 L589.4,1616.6 L583.8,1611 Z" fill="#ffaa00"/>
<circle cx="629.5" cy="1614.6" r="14.5" fill="#050000" stroke="#c80000" stroke-width="2.4"/>
<circle cx="669.5" cy="1612" r="14.5" fill="#050000" stroke="#c80000" stroke-width="2.4"/>
<circle cx="709.6" cy="1608" r="14.5" fill="#050000" stroke="#c80000" stroke-width="2.4"/>
<circle cx="749.7" cy="1620" r="14.5" fill="#050000" stroke="#c80000" stroke-width="2.4"/>
<circle cx="789.7" cy="1611" r="14.5" fill="#050000" stroke="#c80000" stroke-width="2.4"/>
<circle cx="829.8" cy="1629" r="14.5" fill="#050000" stroke="#c80000" stroke-width="2.4"/>
<path d="M829.8,1603.9 L835.4,1609.5 L829.8,1615.1 L824.2,1609.5 Z" fill="#ffaa00"/>
<circle cx="869.9" cy="1630.5" r="14.5" fill="#050000" stroke="#c80000" stroke-width="2.4"/>
<path d="M869.9,1603.9 L875.5,1609.5 L869.9,1615.1 L864.2,1609.5 Z" fill="#ffaa00"/>
<circle cx="909.9" cy="1611" r="14.5" fill="#050000" stroke="#c80000" stroke-width="2.4"/>
<circle cx="950" cy="1609" r="14.5" fill="#050000" stroke="#c80000" stroke-width="2.4"/>
<circle cx="990.1" cy="1619" r="14.5" fill="#050000" stroke="#c80000" stroke-width="2.4"/>
<circle cx="1030.2" cy="1622" r="14.5" fill="#050000" stroke="#c80000" stroke-width="2.4"/>
<circle cx="1070.2" cy="1609" r="14.5" fill="#050000" stroke="#c80000" stroke-width="2.4"/>
<circle cx="1110.3" cy="1603.7" r="14.5" fill="#050000" stroke="#c80000" stroke-width="2.4"/>
<circle cx="1150.4" cy="1611" r="14.5" fill="#050000" stroke="#c80000" stroke-width="2.4"/>
<circle cx="1190.4" cy="1613" r="14.5" fill="#050000" stroke="#c80000" stroke-width="2.4"/>
<circle cx="1230.5" cy="1603.7" r="14.5" fill="#050000" stroke="#c80000" stroke-width="2.4"/>
<circle cx="1270.6" cy="1600.6" r="14.5" fill="#050000" stroke="#c80000" stroke-width="2.4"/>
<circle cx="1310.6" cy="1622" r="14.5" fill="#050000" stroke="#c80000" stroke-width="2.4"/>
<circle cx="1350.7" cy="1608" r="14.5" fill="#050000" stroke="#c80000" stroke-width="2.4"/>
<circle cx="1390.8" cy="1596.7" r="14.5" fill="#050000" stroke="#c80000" stroke-width="2.4"/>
<path d="M1390.8,1607.4 L1396.4,1613 L1390.8,1618.6 L1385.2,1613 Z" fill="#ffaa00"/>
<circle cx="1430.9" cy="1614" r="14.5" fill="#050000" stroke="#c80000" stroke-width="2.4"/>
<circle cx="1470.9" cy="1608" r="14.5" fill="#050000" stroke="#c80000" stroke-width="2.4"/>
<circle cx="1511" cy="1601.7" r="14.5" fill="#050000" stroke="#c80000" stroke-width="2.4"/>
<circle cx="1551.1" cy="1593.5" r="14.5" fill="#050000" stroke="#c80000" stroke-width="2.4"/>
<path d="M1551.1,1606.4 L1556.7,1612 L1551.1,1617.6 L1545.4,1612 Z" fill="#ffaa00"/>
<circle cx="1591.1" cy="1608.7" r="14.5" fill="#050000" stroke="#c80000" stroke-width="2.4"/>
<circle cx="1631.2" cy="1598.2" r="14.5" fill="#050000" stroke="#c80000" stroke-width="2.4"/>
<circle cx="1671.3" cy="1538.8" r="13" fill="#ffff00" stroke="#f08000" stroke-width="3"/>
<path d="M1671.3,1572.4 L1676.9,1578 L1671.3,1583.6 L1665.7,1578 Z" fill="#ffaa00"/>
<circle cx="1711.3" cy="1610" r="14.5" fill="#050000" stroke="#c80000" stroke-width="2.4"/>
<circle cx="1751.4" cy="1612" r="14.5" fill="#050000" stroke="#c80000" stroke-width="2.4"/>
<circle cx="1791.5" cy="1622" r="14.5" fill="#050000" stroke="#c80000" stroke-width="2.4"/>
<circle cx="1831.6" cy="1608" r="14.5" fill="#050000" stroke="#c80000" stroke-width="2.4"/>
<circle cx="1871.6" cy="1619" r="14.5" fill="#050000" stroke="#c80000" stroke-width="2.4"/>
<circle cx="1911.7" cy="1603" r="14.5" fill="#050000" stroke="#c80000" stroke-width="2.4"/>
<circle cx="1951.8" cy="1612" r="14.5" fill="#050000" stroke="#c80000" stroke-width="2.4"/>
<circle cx="1991.8" cy="1607.5" r="14.5" fill="#050000" stroke="#c80000" stroke-width="2.4"/>
<circle cx="2031.9" cy="1591" r="14.5" fill="#050000" stroke="#c80000" stroke-width="2.4"/>
<path d="M2031.9,1606.4 L2037.5,1612 L2031.9,1617.6 L2026.3,1612 Z" fill="#ffaa00"/>
<circle cx="2072" cy="1613.6" r="14.5" fill="#050000" stroke="#c80000" stroke-width="2.4"/>
<circle cx="2112" cy="1617" r="14.5" fill="#050000" stroke="#c80000" stroke-width="2.4"/>
<circle cx="2152.1" cy="1606.6" r="14.5" fill="#050000" stroke="#c80000" stroke-width="2.4"/>
<circle cx="2192.2" cy="1604" r="14.5" fill="#050000" stroke="#c80000" stroke-width="2.4"/>
<rect x="351" y="1962.5" width="18" height="694.5" fill="#d2d2d2"/>
<rect x="369" y="1962.5" width="80.1" height="694.5" fill="#fedabb"/>
<rect x="449.1" y="1962.5" width="40.1" height="694.5" fill="#a6a6fd"/>
<rect x="489.2" y="1962.5" width="1162" height="694.5" fill="#fec08e"/>
<rect x="1651.2" y="1962.5" width="40.1" height="694.5" fill="#e3e3fb"/>
<rect x="1691.3" y="1962.5" width="541.2" height="694.5" fill="#d5d5d5"/>
<text x="1227" y="1980" text-anchor="middle" font-family="'Liberation Sans', Arial, sans-serif" font-weight="bold" font-size="42" fill="#000">CUT</text>
<line x1="348" y1="1962" x2="348" y2="2659" stroke="#f03a3a" stroke-width="3"/>
<line x1="350.6" y1="1962" x2="350.6" y2="2656" stroke="#d88a98" stroke-width="2.2"/>
<line x1="326" y1="2657" x2="347" y2="2657" stroke="#4a4a4a" stroke-width="3"/>
<text transform="translate(320,2665.2) scale(0.86,1)" text-anchor="end" font-family="'Liberation Sans', Arial, sans-serif" font-weight="bold" font-size="29.5" fill="#3c3c46">0</text>
<line x1="326" y1="2548.8" x2="347" y2="2548.8" stroke="#4a4a4a" stroke-width="3"/>
<text transform="translate(320,2556.9) scale(0.86,1)" text-anchor="end" font-family="'Liberation Sans', Arial, sans-serif" font-weight="bold" font-size="29.5" fill="#3c3c46">0,5</text>
<line x1="326" y1="2440.5" x2="347" y2="2440.5" stroke="#4a4a4a" stroke-width="3"/>
<text transform="translate(320,2448.7) scale(0.86,1)" text-anchor="end" font-family="'Liberation Sans', Arial, sans-serif" font-weight="bold" font-size="29.5" fill="#3c3c46">1</text>
<line x1="326" y1="2332.2" x2="347" y2="2332.2" stroke="#4a4a4a" stroke-width="3"/>
<text transform="translate(320,2340.4) scale(0.86,1)" text-anchor="end" font-family="'Liberation Sans', Arial, sans-serif" font-weight="bold" font-size="29.5" fill="#3c3c46">1,5</text>
<line x1="326" y1="2224" x2="347" y2="2224" stroke="#4a4a4a" stroke-width="3"/>
<text transform="translate(320,2232.2) scale(0.86,1)" text-anchor="end" font-family="'Liberation Sans', Arial, sans-serif" font-weight="bold" font-size="29.5" fill="#3c3c46">2</text>
<line x1="326" y1="2115.8" x2="347" y2="2115.8" stroke="#4a4a4a" stroke-width="3"/>
<text transform="translate(320,2123.9) scale(0.86,1)" text-anchor="end" font-family="'Liberation Sans', Arial, sans-serif" font-weight="bold" font-size="29.5" fill="#3c3c46">2,5</text>
<line x1="326" y1="2007.5" x2="347" y2="2007.5" stroke="#4a4a4a" stroke-width="3"/>
<text transform="translate(320,2015.7) scale(0.86,1)" text-anchor="end" font-family="'Liberation Sans', Arial, sans-serif" font-weight="bold" font-size="29.5" fill="#3c3c46">3</text>
<text transform="translate(251,2277) rotate(-90)" text-anchor="middle" font-family="'Liberation Sans', Arial, sans-serif" font-weight="bold" font-size="50" fill="#000" textLength="122" lengthAdjust="spacingAndGlyphs">Ratio</text>
<line x1="348" y1="2657" x2="348" y2="2679" stroke="#4a4a4a" stroke-width="3.5"/>
<line x1="389" y1="2657" x2="389" y2="2679" stroke="#4a4a4a" stroke-width="3.5"/>
<line x1="429.1" y1="2657" x2="429.1" y2="2679" stroke="#4a4a4a" stroke-width="3.5"/>
<line x1="469.2" y1="2657" x2="469.2" y2="2679" stroke="#4a4a4a" stroke-width="3.5"/>
<line x1="509.2" y1="2657" x2="509.2" y2="2679" stroke="#4a4a4a" stroke-width="3.5"/>
<line x1="549.3" y1="2657" x2="549.3" y2="2679" stroke="#4a4a4a" stroke-width="3.5"/>
<line x1="589.4" y1="2657" x2="589.4" y2="2679" stroke="#4a4a4a" stroke-width="3.5"/>
<line x1="629.5" y1="2657" x2="629.5" y2="2679" stroke="#4a4a4a" stroke-width="3.5"/>
<line x1="669.5" y1="2657" x2="669.5" y2="2679" stroke="#4a4a4a" stroke-width="3.5"/>
<line x1="709.6" y1="2657" x2="709.6" y2="2679" stroke="#4a4a4a" stroke-width="3.5"/>
<line x1="749.7" y1="2657" x2="749.7" y2="2679" stroke="#4a4a4a" stroke-width="3.5"/>
<line x1="789.7" y1="2657" x2="789.7" y2="2679" stroke="#4a4a4a" stroke-width="3.5"/>
<line x1="829.8" y1="2657" x2="829.8" y2="2679" stroke="#4a4a4a" stroke-width="3.5"/>
<line x1="869.9" y1="2657" x2="869.9" y2="2679" stroke="#4a4a4a" stroke-width="3.5"/>
<line x1="909.9" y1="2657" x2="909.9" y2="2679" stroke="#4a4a4a" stroke-width="3.5"/>
<line x1="950" y1="2657" x2="950" y2="2679" stroke="#4a4a4a" stroke-width="3.5"/>
<line x1="990.1" y1="2657" x2="990.1" y2="2679" stroke="#4a4a4a" stroke-width="3.5"/>
<line x1="1030.2" y1="2657" x2="1030.2" y2="2679" stroke="#4a4a4a" stroke-width="3.5"/>
<line x1="1070.2" y1="2657" x2="1070.2" y2="2679" stroke="#4a4a4a" stroke-width="3.5"/>
<line x1="1110.3" y1="2657" x2="1110.3" y2="2679" stroke="#4a4a4a" stroke-width="3.5"/>
<line x1="1150.4" y1="2657" x2="1150.4" y2="2679" stroke="#4a4a4a" stroke-width="3.5"/>
<line x1="1190.4" y1="2657" x2="1190.4" y2="2679" stroke="#4a4a4a" stroke-width="3.5"/>
<line x1="1230.5" y1="2657" x2="1230.5" y2="2679" stroke="#4a4a4a" stroke-width="3.5"/>
<line x1="1270.6" y1="2657" x2="1270.6" y2="2679" stroke="#4a4a4a" stroke-width="3.5"/>
<line x1="1310.6" y1="2657" x2="1310.6" y2="2679" stroke="#4a4a4a" stroke-width="3.5"/>
<line x1="1350.7" y1="2657" x2="1350.7" y2="2679" stroke="#4a4a4a" stroke-width="3.5"/>
<line x1="1390.8" y1="2657" x2="1390.8" y2="2679" stroke="#4a4a4a" stroke-width="3.5"/>
<line x1="1430.9" y1="2657" x2="1430.9" y2="2679" stroke="#4a4a4a" stroke-width="3.5"/>
<line x1="1470.9" y1="2657" x2="1470.9" y2="2679" stroke="#4a4a4a" stroke-width="3.5"/>
<line x1="1511" y1="2657" x2="1511" y2="2679" stroke="#4a4a4a" stroke-width="3.5"/>
<line x1="1551.1" y1="2657" x2="1551.1" y2="2679" stroke="#4a4a4a" stroke-width="3.5"/>
<line x1="1591.1" y1="2657" x2="1591.1" y2="2679" stroke="#4a4a4a" stroke-width="3.5"/>
<line x1="1631.2" y1="2657" x2="1631.2" y2="2679" stroke="#4a4a4a" stroke-width="3.5"/>
<line x1="1671.3" y1="2657" x2="1671.3" y2="2679" stroke="#4a4a4a" stroke-width="3.5"/>
<line x1="1711.3" y1="2657" x2="1711.3" y2="2679" stroke="#4a4a4a" stroke-width="3.5"/>
<line x1="1751.4" y1="2657" x2="1751.4" y2="2679" stroke="#4a4a4a" stroke-width="3.5"/>
<line x1="1791.5" y1="2657" x2="1791.5" y2="2679" stroke="#4a4a4a" stroke-width="3.5"/>
<line x1="1831.6" y1="2657" x2="1831.6" y2="2679" stroke="#4a4a4a" stroke-width="3.5"/>
<line x1="1871.6" y1="2657" x2="1871.6" y2="2679" stroke="#4a4a4a" stroke-width="3.5"/>
<line x1="1911.7" y1="2657" x2="1911.7" y2="2679" stroke="#4a4a4a" stroke-width="3.5"/>
<line x1="1951.8" y1="2657" x2="1951.8" y2="2679" stroke="#4a4a4a" stroke-width="3.5"/>
<line x1="1991.8" y1="2657" x2="1991.8" y2="2679" stroke="#4a4a4a" stroke-width="3.5"/>
<line x1="2031.9" y1="2657" x2="2031.9" y2="2679" stroke="#4a4a4a" stroke-width="3.5"/>
<line x1="2072" y1="2657" x2="2072" y2="2679" stroke="#4a4a4a" stroke-width="3.5"/>
<line x1="2112" y1="2657" x2="2112" y2="2679" stroke="#4a4a4a" stroke-width="3.5"/>
<line x1="2152.1" y1="2657" x2="2152.1" y2="2679" stroke="#4a4a4a" stroke-width="3.5"/>
<line x1="2192.2" y1="2657" x2="2192.2" y2="2679" stroke="#4a4a4a" stroke-width="3.5"/>
<line x1="2232" y1="2657" x2="2232" y2="2679" stroke="#4a4a4a" stroke-width="3.5"/>
<rect x="372" y="2638" width="34" height="17" fill="#a8daf0" stroke="#2f4a50" stroke-width="3"/><line x1="389" y1="2638" x2="389" y2="2655" stroke="#5d4d47" stroke-width="3"/>
<line x1="389" y1="2616" x2="389" y2="2657" stroke="#5d4d47" stroke-width="3"/>
<line x1="373" y1="2616" x2="405" y2="2616" stroke="#5d4d47" stroke-width="3.5"/>
<rect x="412.1" y="2410.7" width="34" height="39.3" fill="#a8daf0" stroke="#2f4a50" stroke-width="3"/><line x1="429.1" y1="2410.7" x2="429.1" y2="2522.8" stroke="#5d4d47" stroke-width="3"/><line x1="412.1" y1="2428" x2="446.1" y2="2428" stroke="#2f4a50" stroke-width="3"/><line x1="413.1" y1="2522.8" x2="445.1" y2="2522.8" stroke="#5d4d47" stroke-width="3.5"/>
<line x1="469.2" y1="2616" x2="469.2" y2="2657" stroke="#5d4d47" stroke-width="3"/>
<line x1="453.2" y1="2616" x2="485.2" y2="2616" stroke="#5d4d47" stroke-width="3.5"/>
<line x1="509.2" y1="2227.6" x2="509.2" y2="2423.8" stroke="#5d4d47" stroke-width="3"/><line x1="493.2" y1="2227.6" x2="525.2" y2="2227.6" stroke="#5d4d47" stroke-width="3.5"/><line x1="493.2" y1="2423.8" x2="525.2" y2="2423.8" stroke="#5d4d47" stroke-width="3.5"/>
<line x1="549.3" y1="2307.7" x2="549.3" y2="2472" stroke="#5d4d47" stroke-width="3"/><line x1="533.3" y1="2307.7" x2="565.3" y2="2307.7" stroke="#5d4d47" stroke-width="3.5"/><line x1="533.3" y1="2472" x2="565.3" y2="2472" stroke="#5d4d47" stroke-width="3.5"/>
<line x1="589.4" y1="2334.8" x2="589.4" y2="2490.7" stroke="#5d4d47" stroke-width="3"/><line x1="573.4" y1="2334.8" x2="605.4" y2="2334.8" stroke="#5d4d47" stroke-width="3.5"/><line x1="573.4" y1="2490.7" x2="605.4" y2="2490.7" stroke="#5d4d47" stroke-width="3.5"/>
<rect x="572.4" y="2643.6" width="34" height="12.4" fill="#a8daf0" stroke="#2f4a50" stroke-width="3"/><line x1="589.4" y1="2643.6" x2="589.4" y2="2656" stroke="#5d4d47" stroke-width="3"/>
<line x1="629.5" y1="2102.4" x2="629.5" y2="2347.6" stroke="#5d4d47" stroke-width="3"/><line x1="613.5" y1="2102.4" x2="645.5" y2="2102.4" stroke="#5d4d47" stroke-width="3.5"/><line x1="613.5" y1="2347.6" x2="645.5" y2="2347.6" stroke="#5d4d47" stroke-width="3.5"/>
<line x1="669.5" y1="2334.8" x2="669.5" y2="2481" stroke="#5d4d47" stroke-width="3"/><line x1="653.5" y1="2334.8" x2="685.5" y2="2334.8" stroke="#5d4d47" stroke-width="3.5"/><line x1="653.5" y1="2481" x2="685.5" y2="2481" stroke="#5d4d47" stroke-width="3.5"/>
<line x1="709.6" y1="2410" x2="709.6" y2="2522" stroke="#5d4d47" stroke-width="3"/><line x1="693.6" y1="2410" x2="725.6" y2="2410" stroke="#5d4d47" stroke-width="3.5"/><line x1="693.6" y1="2522" x2="725.6" y2="2522" stroke="#5d4d47" stroke-width="3.5"/>
<line x1="749.7" y1="2344" x2="749.7" y2="2485" stroke="#5d4d47" stroke-width="3"/><line x1="733.7" y1="2344" x2="765.7" y2="2344" stroke="#5d4d47" stroke-width="3.5"/><line x1="733.7" y1="2485" x2="765.7" y2="2485" stroke="#5d4d47" stroke-width="3.5"/>
<rect x="772.7" y="2420" width="34" height="53.7" fill="#a8daf0" stroke="#2f4a50" stroke-width="3"/><line x1="789.7" y1="2307.7" x2="789.7" y2="2473.7" stroke="#5d4d47" stroke-width="3"/><line x1="772.7" y1="2455" x2="806.7" y2="2455" stroke="#2f4a50" stroke-width="3"/><line x1="773.7" y1="2307.7" x2="805.7" y2="2307.7" stroke="#5d4d47" stroke-width="3.5"/>
<rect x="812.8" y="2394.5" width="34" height="96.5" fill="#a8daf0" stroke="#2f4a50" stroke-width="3"/><line x1="829.8" y1="2394.5" x2="829.8" y2="2540" stroke="#5d4d47" stroke-width="3"/><line x1="812.8" y1="2436" x2="846.8" y2="2436" stroke="#2f4a50" stroke-width="3"/><line x1="813.8" y1="2540" x2="845.8" y2="2540" stroke="#5d4d47" stroke-width="3.5"/>
<rect x="852.9" y="2409.7" width="34" height="64" fill="#a8daf0" stroke="#2f4a50" stroke-width="3"/><line x1="869.9" y1="2409.7" x2="869.9" y2="2549.6" stroke="#5d4d47" stroke-width="3"/><line x1="852.9" y1="2436" x2="886.9" y2="2436" stroke="#2f4a50" stroke-width="3"/><line x1="853.9" y1="2549.6" x2="885.9" y2="2549.6" stroke="#5d4d47" stroke-width="3.5"/>
<rect x="892.9" y="2425.7" width="34" height="64" fill="#a8daf0" stroke="#2f4a50" stroke-width="3"/><line x1="909.9" y1="2387.8" x2="909.9" y2="2508" stroke="#5d4d47" stroke-width="3"/><line x1="893.9" y1="2387.8" x2="925.9" y2="2387.8" stroke="#5d4d47" stroke-width="3.5"/><line x1="893.9" y1="2508" x2="925.9" y2="2508" stroke="#5d4d47" stroke-width="3.5"/>
<rect x="933" y="2438.8" width="34" height="17.2" fill="#a8daf0" stroke="#2f4a50" stroke-width="3"/><line x1="950" y1="2392" x2="950" y2="2512.6" stroke="#5d4d47" stroke-width="3"/><line x1="934" y1="2392" x2="966" y2="2392" stroke="#5d4d47" stroke-width="3.5"/><line x1="934" y1="2512.6" x2="966" y2="2512.6" stroke="#5d4d47" stroke-width="3.5"/>
<rect x="973.1" y="2433" width="34" height="24.7" fill="#a8daf0" stroke="#2f4a50" stroke-width="3"/><line x1="990.1" y1="2408" x2="990.1" y2="2519.3" stroke="#5d4d47" stroke-width="3"/><line x1="973.1" y1="2446" x2="1007.1" y2="2446" stroke="#2f4a50" stroke-width="3"/><line x1="974.1" y1="2408" x2="1006.1" y2="2408" stroke="#5d4d47" stroke-width="3.5"/><line x1="974.1" y1="2519.3" x2="1006.1" y2="2519.3" stroke="#5d4d47" stroke-width="3.5"/>
<rect x="1013.2" y="2415.5" width="34" height="65.5" fill="#a8daf0" stroke="#2f4a50" stroke-width="3"/><line x1="1030.2" y1="2374.7" x2="1030.2" y2="2503" stroke="#5d4d47" stroke-width="3"/><line x1="1014.2" y1="2374.7" x2="1046.2" y2="2374.7" stroke="#5d4d47" stroke-width="3.5"/><line x1="1014.2" y1="2503" x2="1046.2" y2="2503" stroke="#5d4d47" stroke-width="3.5"/>
<rect x="1053.2" y="2610" width="34" height="26.4" fill="#a8daf0" stroke="#2f4a50" stroke-width="3"/><line x1="1070.2" y1="2606.7" x2="1070.2" y2="2636.4" stroke="#5d4d47" stroke-width="3"/><line x1="1054.2" y1="2606.7" x2="1086.2" y2="2606.7" stroke="#5d4d47" stroke-width="3.5"/><line x1="1054.2" y1="2636.4" x2="1086.2" y2="2636.4" stroke="#5d4d47" stroke-width="3.5"/>
<line x1="1110.3" y1="2616" x2="1110.3" y2="2657" stroke="#5d4d47" stroke-width="3"/>
<line x1="1094.3" y1="2616" x2="1126.3" y2="2616" stroke="#5d4d47" stroke-width="3.5"/>
<line x1="1150.4" y1="2616" x2="1150.4" y2="2657" stroke="#5d4d47" stroke-width="3"/>
<line x1="1134.4" y1="2616" x2="1166.4" y2="2616" stroke="#5d4d47" stroke-width="3.5"/>
<line x1="1190.4" y1="2616" x2="1190.4" y2="2657" stroke="#5d4d47" stroke-width="3"/>
<line x1="1174.4" y1="2616" x2="1206.4" y2="2616" stroke="#5d4d47" stroke-width="3.5"/>
<line x1="1230.5" y1="2616" x2="1230.5" y2="2657" stroke="#5d4d47" stroke-width="3"/>
<line x1="1214.5" y1="2616" x2="1246.5" y2="2616" stroke="#5d4d47" stroke-width="3.5"/>
<rect x="1253.6" y="2430" width="34" height="26" fill="#a8daf0" stroke="#2f4a50" stroke-width="3"/><line x1="1270.6" y1="2371.8" x2="1270.6" y2="2508" stroke="#5d4d47" stroke-width="3"/><line x1="1254.6" y1="2371.8" x2="1286.6" y2="2371.8" stroke="#5d4d47" stroke-width="3.5"/><line x1="1254.6" y1="2508" x2="1286.6" y2="2508" stroke="#5d4d47" stroke-width="3.5"/>
<rect x="1293.6" y="2425.7" width="34" height="23.3" fill="#a8daf0" stroke="#2f4a50" stroke-width="3"/><line x1="1310.6" y1="2333.4" x2="1310.6" y2="2478.5" stroke="#5d4d47" stroke-width="3"/><line x1="1293.6" y1="2437" x2="1327.6" y2="2437" stroke="#2f4a50" stroke-width="3"/><line x1="1294.6" y1="2333.4" x2="1326.6" y2="2333.4" stroke="#5d4d47" stroke-width="3.5"/><line x1="1294.6" y1="2478.5" x2="1326.6" y2="2478.5" stroke="#5d4d47" stroke-width="3.5"/>
<rect x="1333.7" y="2401" width="34" height="55" fill="#a8daf0" stroke="#2f4a50" stroke-width="3"/><line x1="1350.7" y1="2301" x2="1350.7" y2="2464.6" stroke="#5d4d47" stroke-width="3"/><line x1="1333.7" y1="2428.6" x2="1367.7" y2="2428.6" stroke="#2f4a50" stroke-width="3"/><line x1="1334.7" y1="2301" x2="1366.7" y2="2301" stroke="#5d4d47" stroke-width="3.5"/><line x1="1334.7" y1="2464.6" x2="1366.7" y2="2464.6" stroke="#5d4d47" stroke-width="3.5"/>
<rect x="1373.8" y="2425.7" width="34" height="33.3" fill="#a8daf0" stroke="#2f4a50" stroke-width="3"/><line x1="1390.8" y1="2380.5" x2="1390.8" y2="2512.6" stroke="#5d4d47" stroke-width="3"/><line x1="1374.8" y1="2380.5" x2="1406.8" y2="2380.5" stroke="#5d4d47" stroke-width="3.5"/><line x1="1374.8" y1="2512.6" x2="1406.8" y2="2512.6" stroke="#5d4d47" stroke-width="3.5"/>
<rect x="1413.9" y="2437" width="34" height="28" fill="#a8daf0" stroke="#2f4a50" stroke-width="3"/><line x1="1430.9" y1="2348.5" x2="1430.9" y2="2485" stroke="#5d4d47" stroke-width="3"/><line x1="1413.9" y1="2452" x2="1447.9" y2="2452" stroke="#2f4a50" stroke-width="3"/><line x1="1414.9" y1="2348.5" x2="1446.9" y2="2348.5" stroke="#5d4d47" stroke-width="3.5"/><line x1="1414.9" y1="2485" x2="1446.9" y2="2485" stroke="#5d4d47" stroke-width="3.5"/>
<rect x="1453.9" y="2398" width="34" height="32" fill="#a8daf0" stroke="#2f4a50" stroke-width="3"/><line x1="1470.9" y1="2337" x2="1470.9" y2="2481" stroke="#5d4d47" stroke-width="3"/><line x1="1454.9" y1="2337" x2="1486.9" y2="2337" stroke="#5d4d47" stroke-width="3.5"/><line x1="1454.9" y1="2481" x2="1486.9" y2="2481" stroke="#5d4d47" stroke-width="3.5"/>
<rect x="1494" y="2370" width="34" height="71.7" fill="#a8daf0" stroke="#2f4a50" stroke-width="3"/><line x1="1511" y1="2370" x2="1511" y2="2512.6" stroke="#5d4d47" stroke-width="3"/><line x1="1494" y1="2385" x2="1528" y2="2385" stroke="#2f4a50" stroke-width="3"/><line x1="1494" y1="2420" x2="1528" y2="2420" stroke="#2f4a50" stroke-width="3"/><line x1="1495" y1="2512.6" x2="1527" y2="2512.6" stroke="#5d4d47" stroke-width="3.5"/>
<rect x="1534.1" y="2390.7" width="34" height="67" fill="#a8daf0" stroke="#2f4a50" stroke-width="3"/><line x1="1551.1" y1="2331" x2="1551.1" y2="2483.5" stroke="#5d4d47" stroke-width="3"/><line x1="1534.1" y1="2430" x2="1568.1" y2="2430" stroke="#2f4a50" stroke-width="3"/><line x1="1535.1" y1="2331" x2="1567.1" y2="2331" stroke="#5d4d47" stroke-width="3.5"/><line x1="1535.1" y1="2483.5" x2="1567.1" y2="2483.5" stroke="#5d4d47" stroke-width="3.5"/>
<rect x="1574.1" y="2441.7" width="34" height="23.3" fill="#a8daf0" stroke="#2f4a50" stroke-width="3"/><line x1="1591.1" y1="2415.5" x2="1591.1" y2="2526.3" stroke="#5d4d47" stroke-width="3"/><line x1="1575.1" y1="2415.5" x2="1607.1" y2="2415.5" stroke="#5d4d47" stroke-width="3.5"/><line x1="1575.1" y1="2526.3" x2="1607.1" y2="2526.3" stroke="#5d4d47" stroke-width="3.5"/>
<rect x="1614.2" y="2440" width="34" height="45" fill="#a8daf0" stroke="#2f4a50" stroke-width="3"/><line x1="1631.2" y1="2305.4" x2="1631.2" y2="2485" stroke="#5d4d47" stroke-width="3"/><line x1="1614.2" y1="2463.5" x2="1648.2" y2="2463.5" stroke="#2f4a50" stroke-width="3"/><line x1="1615.2" y1="2305.4" x2="1647.2" y2="2305.4" stroke="#5d4d47" stroke-width="3.5"/>
<rect x="1654.3" y="2411" width="34" height="109" fill="#a8daf0" stroke="#2f4a50" stroke-width="3"/><line x1="1671.3" y1="2276" x2="1671.3" y2="2608.7" stroke="#5f5f5f" stroke-width="3"/><line x1="1655.3" y1="2276" x2="1687.3" y2="2276" stroke="#5f5f5f" stroke-width="3.5"/><line x1="1655.3" y1="2608.7" x2="1687.3" y2="2608.7" stroke="#5f5f5f" stroke-width="3.5"/>
<rect x="1694.3" y="2436" width="34" height="13" fill="#12dc72" stroke="#1e4a2a" stroke-width="3"/><line x1="1711.3" y1="2418.4" x2="1711.3" y2="2524" stroke="#5f5f5f" stroke-width="3"/><line x1="1695.3" y1="2418.4" x2="1727.3" y2="2418.4" stroke="#5f5f5f" stroke-width="3.5"/><line x1="1695.3" y1="2524" x2="1727.3" y2="2524" stroke="#5f5f5f" stroke-width="3.5"/>
<rect x="1734.4" y="2424.5" width="34" height="29.5" fill="#12dc72" stroke="#1e4a2a" stroke-width="3"/><line x1="1751.4" y1="2387" x2="1751.4" y2="2511" stroke="#5f5f5f" stroke-width="3"/><line x1="1735.4" y1="2387" x2="1767.4" y2="2387" stroke="#5f5f5f" stroke-width="3.5"/><line x1="1735.4" y1="2511" x2="1767.4" y2="2511" stroke="#5f5f5f" stroke-width="3.5"/>
<rect x="1774.5" y="2424" width="34" height="205" fill="#12dc72" stroke="#1e4a2a" stroke-width="3"/><line x1="1791.5" y1="2424" x2="1791.5" y2="2629" stroke="#5f5f5f" stroke-width="3"/><line x1="1774.5" y1="2467.5" x2="1808.5" y2="2467.5" stroke="#1e4a2a" stroke-width="3"/><line x1="1774.5" y1="2493.7" x2="1808.5" y2="2493.7" stroke="#1e4a2a" stroke-width="3"/><line x1="1774.5" y1="2559" x2="1808.5" y2="2559" stroke="#1e4a2a" stroke-width="3"/>
<line x1="1831.6" y1="2616" x2="1831.6" y2="2657" stroke="#5d4d47" stroke-width="3"/>
<line x1="1815.6" y1="2616" x2="1847.6" y2="2616" stroke="#5d4d47" stroke-width="3.5"/>
<rect x="1854.6" y="2417" width="34" height="48" fill="#12dc72" stroke="#1e4a2a" stroke-width="3"/><line x1="1871.6" y1="2337" x2="1871.6" y2="2482.5" stroke="#5f5f5f" stroke-width="3"/><line x1="1854.6" y1="2441.7" x2="1888.6" y2="2441.7" stroke="#1e4a2a" stroke-width="3"/><line x1="1855.6" y1="2337" x2="1887.6" y2="2337" stroke="#5f5f5f" stroke-width="3.5"/><line x1="1855.6" y1="2482.5" x2="1887.6" y2="2482.5" stroke="#5f5f5f" stroke-width="3.5"/>
<rect x="1894.7" y="2431.5" width="34" height="53.5" fill="#12dc72" stroke="#1e4a2a" stroke-width="3"/><line x1="1911.7" y1="2406" x2="1911.7" y2="2527" stroke="#5f5f5f" stroke-width="3"/><line x1="1895.7" y1="2406" x2="1927.7" y2="2406" stroke="#5f5f5f" stroke-width="3.5"/><line x1="1895.7" y1="2527" x2="1927.7" y2="2527" stroke="#5f5f5f" stroke-width="3.5"/>
<rect x="1934.8" y="2385" width="34" height="55" fill="#12dc72" stroke="#1e4a2a" stroke-width="3"/><line x1="1951.8" y1="2335.4" x2="1951.8" y2="2479.6" stroke="#5f5f5f" stroke-width="3"/><line x1="1935.8" y1="2335.4" x2="1967.8" y2="2335.4" stroke="#5f5f5f" stroke-width="3.5"/><line x1="1935.8" y1="2479.6" x2="1967.8" y2="2479.6" stroke="#5f5f5f" stroke-width="3.5"/>
<line x1="1991.8" y1="2293.8" x2="1991.8" y2="2457.7" stroke="#5f5f5f" stroke-width="3"/><line x1="1974.8" y1="2437" x2="2008.8" y2="2437" stroke="#1e4a2a" stroke-width="3"/><line x1="1975.8" y1="2293.8" x2="2007.8" y2="2293.8" stroke="#5f5f5f" stroke-width="3.5"/><line x1="1975.8" y1="2457.7" x2="2007.8" y2="2457.7" stroke="#5f5f5f" stroke-width="3.5"/>
<rect x="2014.9" y="2403" width="34" height="64" fill="#12dc72" stroke="#1e4a2a" stroke-width="3"/><line x1="2031.9" y1="2403" x2="2031.9" y2="2524.5" stroke="#5f5f5f" stroke-width="3"/><line x1="2014.9" y1="2420" x2="2048.9" y2="2420" stroke="#1e4a2a" stroke-width="3"/><line x1="2014.9" y1="2436" x2="2048.9" y2="2436" stroke="#1e4a2a" stroke-width="3"/><line x1="2015.9" y1="2524.5" x2="2047.9" y2="2524.5" stroke="#5f5f5f" stroke-width="3.5"/>
<rect x="2055" y="2422" width="34" height="23" fill="#12dc72" stroke="#1e4a2a" stroke-width="3"/><line x1="2072" y1="2366.5" x2="2072" y2="2498" stroke="#5f5f5f" stroke-width="3"/><line x1="2056" y1="2366.5" x2="2088" y2="2366.5" stroke="#5f5f5f" stroke-width="3.5"/><line x1="2056" y1="2498" x2="2088" y2="2498" stroke="#5f5f5f" stroke-width="3.5"/>
<rect x="2095" y="2433.7" width="34" height="54.3" fill="#12dc72" stroke="#1e4a2a" stroke-width="3"/><line x1="2112" y1="2316.8" x2="2112" y2="2488" stroke="#5f5f5f" stroke-width="3"/><line x1="2095" y1="2470" x2="2129" y2="2470" stroke="#1e4a2a" stroke-width="3"/><line x1="2096" y1="2316.8" x2="2128" y2="2316.8" stroke="#5f5f5f" stroke-width="3.5"/>
<rect x="2135.1" y="2433" width="34" height="18" fill="#12dc72" stroke="#1e4a2a" stroke-width="3"/><line x1="2152.1" y1="2321" x2="2152.1" y2="2476" stroke="#5f5f5f" stroke-width="3"/><line x1="2135.1" y1="2442" x2="2169.1" y2="2442" stroke="#1e4a2a" stroke-width="3"/><line x1="2136.1" y1="2321" x2="2168.1" y2="2321" stroke="#5f5f5f" stroke-width="3.5"/><line x1="2136.1" y1="2476" x2="2168.1" y2="2476" stroke="#5f5f5f" stroke-width="3.5"/>
<rect x="2175.2" y="2392" width="34" height="80" fill="#12dc72" stroke="#1e4a2a" stroke-width="3"/><line x1="2192.2" y1="2385.7" x2="2192.2" y2="2513" stroke="#5f5f5f" stroke-width="3"/><line x1="2175.2" y1="2423" x2="2209.2" y2="2423" stroke="#1e4a2a" stroke-width="3"/><line x1="2176.2" y1="2385.7" x2="2208.2" y2="2385.7" stroke="#5f5f5f" stroke-width="3.5"/><line x1="2176.2" y1="2513" x2="2208.2" y2="2513" stroke="#5f5f5f" stroke-width="3.5"/>
<path d="M389,2587 C390.8,2569.2 395.7,2512.8 400,2480 C404.3,2447.2 410.2,2408.8 415,2390 C419.8,2371.2 424.3,2367 429,2367 C433.7,2367 438.2,2371.2 443,2390 C447.8,2408.8 453.5,2450 458,2480 C462.5,2510 465.8,2548.5 470,2570 C474.2,2591.5 477.5,2605.2 483,2609 C488.5,2612.8 491.8,2596 503,2593 C514.2,2590 535.5,2591.7 550,2591 C564.5,2590.3 573.3,2589 590,2589 C606.7,2589 630,2590.3 650,2591 C670,2591.7 695.7,2590 710,2593 C724.3,2596 728.5,2614.5 736,2609 C743.5,2603.5 749.3,2583.2 755,2560 C760.7,2536.8 765,2498.3 770,2470 C775,2441.7 779.3,2407.5 785,2390 C790.7,2372.5 797,2367 804,2365 C811,2363 816.3,2376.2 827,2378 C837.7,2379.8 856.3,2374.2 868,2376 C879.7,2377.8 886.8,2386.5 897,2389 C907.2,2391.5 917.8,2392.5 929,2391 C940.2,2389.5 953.3,2382.2 964,2380 C974.7,2377.8 984.3,2380 993,2378 C1001.7,2376 1009.7,2368 1016,2368 C1022.3,2368 1026.7,2366 1031,2378 C1035.3,2390 1038.2,2419.7 1042,2440 C1045.8,2460.3 1049.3,2479.2 1054,2500 C1058.7,2520.8 1064.2,2550 1070,2565 C1075.8,2580 1067.8,2585.3 1089,2590 C1110.2,2594.7 1175.2,2589.8 1197,2593 C1218.8,2596.2 1213.3,2614.5 1220,2609 C1226.7,2603.5 1232.3,2578.2 1237,2560 C1241.7,2541.8 1244.2,2526.7 1248,2500 C1251.8,2473.3 1256.2,2420.8 1260,2400 C1263.8,2379.2 1267,2381.7 1271,2375 C1275,2368.3 1278,2360.5 1284,2360 C1290,2359.5 1296.3,2371.7 1307,2372 C1317.7,2372.3 1331.5,2360.3 1348,2362 C1364.5,2363.7 1392.3,2377.7 1406,2382 C1419.7,2386.3 1419.3,2393.7 1430,2388 C1440.7,2382.3 1458,2355.8 1470,2348 C1482,2340.2 1490.3,2340 1502,2341 C1513.7,2342 1524.3,2345.5 1540,2354 C1555.7,2362.5 1581.3,2384.7 1596,2392 C1610.7,2399.3 1615.5,2396.5 1628,2398 C1640.5,2399.5 1656.5,2404.8 1671,2401 C1685.5,2397.2 1703.8,2380.5 1715,2375 C1726.2,2369.5 1730.7,2367.2 1738,2368 C1745.3,2368.8 1752.2,2370.2 1759,2380 C1765.8,2389.8 1771.8,2407 1779,2427 C1786.2,2447 1793.8,2471.8 1802,2500 C1810.2,2528.2 1819.7,2596 1828,2596 C1836.3,2596 1845.7,2532.7 1852,2500 C1858.3,2467.3 1861.7,2422.5 1866,2400 C1870.3,2377.5 1870.7,2366.3 1878,2365 C1885.3,2363.7 1897.8,2395.2 1910,2392 C1922.2,2388.8 1939.3,2350.5 1951,2346 C1962.7,2341.5 1970.5,2360.5 1980,2365 C1989.5,2369.5 1994.3,2373.2 2008,2373 C2021.7,2372.8 2050,2364.7 2062,2364 C2074,2363.3 2071.8,2364.2 2080,2369 C2088.2,2373.8 2099.3,2392 2111,2393 C2122.7,2394 2136.5,2379.3 2150,2375 C2163.5,2370.7 2185,2368.3 2192,2367" fill="none" stroke="#4a3ee0" stroke-width="3" stroke-opacity="0.85"/>
<path d="M395,2657 C397.5,2640.8 404.3,2586.5 410,2560 C415.7,2533.5 422.7,2498 429,2498 C435.3,2498 442.5,2533.5 448,2560 C453.5,2586.5 459.7,2640.8 462,2657" fill="none" stroke="#ff4a3a" stroke-width="3" stroke-opacity="0.9"/>
<path d="M750.6,2657 C753,2647.5 760.1,2621.2 765,2600 C769.9,2578.8 775,2546 780,2530 C785,2514 788.7,2507.8 795,2504 C801.3,2500.2 807.2,2505.2 818,2507 C828.8,2508.8 845.5,2512.3 860,2515 C874.5,2517.7 890.2,2523.3 905,2523 C919.8,2522.7 931,2516.5 949,2513 C967,2509.5 999.8,2503 1013,2502 C1026.2,2501 1022.7,2495.7 1028,2507 C1033.3,2518.3 1038.7,2545.2 1045,2570 C1051.3,2594.8 1062.5,2641.7 1066,2656" fill="none" stroke="#ff4a3a" stroke-width="3" stroke-opacity="0.9"/>
<path d="M1231,2656 C1233.3,2645 1240.5,2611 1245,2590 C1249.5,2569 1253.7,2544.2 1258,2530 C1262.3,2515.8 1262.8,2509.7 1271,2505 C1279.2,2500.3 1294.2,2503.8 1307,2502 C1319.8,2500.2 1334.3,2492.5 1348,2494 C1361.7,2495.5 1376.3,2507 1389,2511 C1401.7,2515 1411,2522.8 1424,2518 C1437,2513.2 1454.3,2489.8 1467,2482 C1479.7,2474.2 1490.2,2472 1500,2471 C1509.8,2470 1510.5,2467.3 1526,2476 C1541.5,2484.7 1568.8,2514 1593,2523 C1617.2,2532 1650.7,2533.5 1671,2530 C1691.3,2526.5 1703.8,2507.3 1715,2502 C1726.2,2496.7 1729.3,2494 1738,2498 C1746.7,2502 1755.3,2504.3 1767,2526 C1778.7,2547.7 1797.8,2606.5 1808,2628 C1818.2,2649.5 1820.7,2660.3 1828,2655 C1835.3,2649.7 1845.8,2616.8 1852,2596 C1858.2,2575.2 1860.7,2546 1865,2530 C1869.3,2514 1870.5,2501.2 1878,2500 C1885.5,2498.8 1898.3,2526.5 1910,2523 C1921.7,2519.5 1938.8,2486.2 1948,2479 C1957.2,2471.8 1957.7,2476.2 1965,2480 C1972.3,2483.8 1980.5,2498.7 1992,2502 C2003.5,2505.3 2022.8,2501.3 2034,2500 C2045.2,2498.7 2046.2,2489.5 2059,2494 C2071.8,2498.5 2095.8,2524.5 2111,2527 C2126.2,2529.5 2136.5,2513.8 2150,2509 C2163.5,2504.2 2185,2499.8 2192,2498" fill="none" stroke="#ff4a3a" stroke-width="3" stroke-opacity="0.9"/>
<line x1="326" y1="2657" x2="2233" y2="2657" stroke="#ff5a50" stroke-width="4.5"/>
<circle cx="389" cy="2657" r="15.5" fill="#ff0000"/>
<path d="M429.1,2426.9 L434.7,2432.5 L429.1,2438.1 L423.5,2432.5 Z" fill="#ffaa00"/>
<circle cx="429.1" cy="2466" r="14.5" fill="#050000" stroke="#c80000" stroke-width="2.4"/>
<circle cx="469.2" cy="2657" r="15.5" fill="#ff0000"/>
<circle cx="509.2" cy="2326.5" r="14.5" fill="#0000ff" stroke="#ff2060" stroke-width="1.5"/>
<path d="M509.2,2651 L514.2,2656 L509.2,2661 L504.2,2656 Z" fill="#ffaa00"/>
<circle cx="549.3" cy="2389.7" r="14.5" fill="#0000ff" stroke="#ff2060" stroke-width="1.5"/>
<path d="M549.3,2651 L554.3,2656 L549.3,2661 L544.3,2656 Z" fill="#ffaa00"/>
<circle cx="589.4" cy="2413" r="14.5" fill="#0000ff" stroke="#ff2060" stroke-width="1.5"/>
<path d="M589.4,2651 L594.4,2656 L589.4,2661 L584.4,2656 Z" fill="#ffaa00"/>
<circle cx="629.5" cy="2226" r="14.5" fill="#0000ff" stroke="#ff2060" stroke-width="1.5"/>
<path d="M629.5,2651 L634.5,2656 L629.5,2661 L624.5,2656 Z" fill="#ffaa00"/>
<circle cx="669.5" cy="2407.7" r="14.5" fill="#0000ff" stroke="#ff2060" stroke-width="1.5"/>
<path d="M669.5,2651 L674.5,2656 L669.5,2661 L664.5,2656 Z" fill="#ffaa00"/>
<circle cx="709.6" cy="2466" r="14.5" fill="#0000ff" stroke="#ff2060" stroke-width="1.5"/>
<path d="M709.6,2651 L714.6,2656 L709.6,2661 L704.6,2656 Z" fill="#ffaa00"/>
<circle cx="749.7" cy="2415" r="14.5" fill="#0000ff" stroke="#ff2060" stroke-width="1.5"/>
<path d="M749.7,2651 L754.7,2656 L749.7,2661 L744.7,2656 Z" fill="#ffaa00"/>
<path d="M789.7,2441.9 L795.4,2447.5 L789.7,2453.1 L784.1,2447.5 Z" fill="#ffaa00"/>
<circle cx="789.7" cy="2384" r="14.5" fill="#050000" stroke="#c80000" stroke-width="2.4"/>
<path d="M829.8,2439 L835.4,2444.6 L829.8,2450.2 L824.2,2444.6 Z" fill="#ffaa00"/>
<circle cx="829.8" cy="2470" r="14.5" fill="#050000" stroke="#c80000" stroke-width="2.4"/>
<path d="M869.9,2434.4 L875.5,2440 L869.9,2445.6 L864.2,2440 Z" fill="#ffaa00"/>
<circle cx="869.9" cy="2490" r="14.5" fill="#050000" stroke="#c80000" stroke-width="2.4"/>
<circle cx="909.9" cy="2448" r="14.5" fill="#050000" stroke="#c80000" stroke-width="2.4"/>
<circle cx="950" cy="2454" r="14.5" fill="#050000" stroke="#c80000" stroke-width="2.4"/>
<path d="M990.1,2440.4 L995.7,2446 L990.1,2451.6 L984.5,2446 Z" fill="#ffaa00"/>
<circle cx="990.1" cy="2466" r="14.5" fill="#050000" stroke="#c80000" stroke-width="2.4"/>
<circle cx="1030.2" cy="2439.4" r="14.5" fill="#050000" stroke="#c80000" stroke-width="2.4"/>
<circle cx="1070.2" cy="2621.8" r="11" fill="#050000" stroke="#c80000" stroke-width="2.4"/>
<circle cx="1110.3" cy="2657" r="15.5" fill="#ff0000"/>
<circle cx="1150.4" cy="2657" r="15.5" fill="#ff0000"/>
<circle cx="1190.4" cy="2657" r="15.5" fill="#ff0000"/>
<circle cx="1230.5" cy="2657" r="15.5" fill="#ff0000"/>
<circle cx="1270.6" cy="2441.7" r="14.5" fill="#050000" stroke="#c80000" stroke-width="2.4"/>
<path d="M1310.6,2431.4 L1316.3,2437 L1310.6,2442.6 L1305,2437 Z" fill="#ffaa00"/>
<circle cx="1310.6" cy="2406" r="14.5" fill="#050000" stroke="#c80000" stroke-width="2.4"/>
<path d="M1350.7,2423 L1356.3,2428.6 L1350.7,2434.2 L1345.1,2428.6 Z" fill="#ffaa00"/>
<circle cx="1350.7" cy="2383.5" r="14.5" fill="#050000" stroke="#c80000" stroke-width="2.4"/>
<circle cx="1390.8" cy="2447.5" r="14.5" fill="#050000" stroke="#c80000" stroke-width="2.4"/>
<path d="M1430.9,2446.4 L1436.5,2452 L1430.9,2457.6 L1425.2,2452 Z" fill="#ffaa00"/>
<circle cx="1430.9" cy="2417" r="14.5" fill="#050000" stroke="#c80000" stroke-width="2.4"/>
<circle cx="1470.9" cy="2409.7" r="14.5" fill="#050000" stroke="#c80000" stroke-width="2.4"/>
<path d="M1511,2401.2 L1516.6,2406.8 L1511,2412.4 L1505.4,2406.8 Z" fill="#ffaa00"/>
<circle cx="1511" cy="2452" r="14.5" fill="#050000" stroke="#c80000" stroke-width="2.4"/>
<path d="M1551.1,2414.4 L1556.7,2420 L1551.1,2425.6 L1545.4,2420 Z" fill="#ffaa00"/>
<circle cx="1551.1" cy="2406.8" r="14.5" fill="#050000" stroke="#c80000" stroke-width="2.4"/>
<path d="M1591.1,2444.4 L1596.8,2450 L1591.1,2455.6 L1585.5,2450 Z" fill="#ffaa00"/>
<circle cx="1591.1" cy="2471" r="14.5" fill="#050000" stroke="#c80000" stroke-width="2.4"/>
<path d="M1631.2,2457.9 L1636.8,2463.5 L1631.2,2469.1 L1625.6,2463.5 Z" fill="#ffaa00"/>
<circle cx="1631.2" cy="2390.7" r="14" fill="#a0a0ff" stroke="#ff70b0" stroke-width="3"/>
<path d="M1671.3,2459.4 L1676.9,2465 L1671.3,2470.6 L1665.7,2465 Z" fill="#ffaa00"/>
<circle cx="1671.3" cy="2441.7" r="14.5" fill="#050000" stroke="#c80000" stroke-width="2.4"/>
<path d="M1711.3,2437.4 L1717,2443 L1711.3,2448.6 L1705.7,2443 Z" fill="#ffaa00"/>
<circle cx="1711.3" cy="2472" r="14.5" fill="#050000" stroke="#c80000" stroke-width="2.4"/>
<circle cx="1751.4" cy="2448" r="14.5" fill="#050000" stroke="#c80000" stroke-width="2.4"/>
<path d="M1791.5,2523 L1797.1,2528.6 L1791.5,2534.2 L1785.9,2528.6 Z" fill="#ffaa00"/>
<circle cx="1791.5" cy="2514" r="14.5" fill="#050000" stroke="#c80000" stroke-width="2.4"/>
<circle cx="1831.6" cy="2657" r="15.5" fill="#ff0000"/>
<path d="M1871.6,2436.1 L1877.2,2441.7 L1871.6,2447.3 L1866,2441.7 Z" fill="#ffaa00"/>
<circle cx="1871.6" cy="2409.7" r="14.5" fill="#050000" stroke="#c80000" stroke-width="2.4"/>
<circle cx="1911.7" cy="2468" r="14.5" fill="#050000" stroke="#c80000" stroke-width="2.4"/>
<circle cx="1951.8" cy="2408" r="14.5" fill="#050000" stroke="#c80000" stroke-width="2.4"/>
<path d="M1991.8,2431.4 L1997.5,2437 L1991.8,2442.6 L1986.2,2437 Z" fill="#ffaa00"/>
<circle cx="1991.8" cy="2375.5" r="14.5" fill="#050000" stroke="#c80000" stroke-width="2.4"/>
<path d="M2031.9,2430.4 L2037.5,2436 L2031.9,2441.6 L2026.3,2436 Z" fill="#ffaa00"/>
<circle cx="2031.9" cy="2463" r="14.5" fill="#050000" stroke="#c80000" stroke-width="2.4"/>
<circle cx="2072" cy="2433" r="14.5" fill="#050000" stroke="#c80000" stroke-width="2.4"/>
<path d="M2112,2457.4 L2117.7,2463 L2112,2468.6 L2106.4,2463 Z" fill="#ffaa00"/>
<circle cx="2112" cy="2392" r="14" fill="#a0a0ff" stroke="#ff70b0" stroke-width="3"/>
<path d="M2152.1,2436.4 L2157.7,2442 L2152.1,2447.6 L2146.5,2442 Z" fill="#ffaa00"/>
<circle cx="2152.1" cy="2399.5" r="14.5" fill="#050000" stroke="#c80000" stroke-width="2.4"/>
<path d="M2192.2,2426 L2197.8,2431.6 L2192.2,2437.2 L2186.6,2431.6 Z" fill="#ffaa00"/>
<circle cx="2192.2" cy="2450.4" r="14.5" fill="#050000" stroke="#c80000" stroke-width="2.4"/>
<text transform="translate(396,2683) rotate(-90) scale(1,1.18)" text-anchor="end" font-family="'Liberation Sans', Arial, sans-serif" font-size="16.9" fill="#2a2a2a" stroke="#2a2a2a" stroke-width="0.8">03-025,444300</text>
<text transform="translate(436.1,2683) rotate(-90) scale(1,1.18)" text-anchor="end" font-family="'Liberation Sans', Arial, sans-serif" font-size="16.9" fill="#2a2a2a" stroke="#2a2a2a" stroke-width="0.8">03-070,000600</text>
<text transform="translate(476.2,2683) rotate(-90) scale(1,1.18)" text-anchor="end" font-family="'Liberation Sans', Arial, sans-serif" font-size="16.9" fill="#2a2a2a" stroke="#2a2a2a" stroke-width="0.8">17-046,005400</text>
<text transform="translate(516.2,2683) rotate(-90) scale(1,1.18)" text-anchor="end" font-family="'Liberation Sans', Arial, sans-serif" font-size="16.9" fill="#2a2a2a" stroke="#2a2a2a" stroke-width="0.8">X-146,000600</text>
<text transform="translate(556.3,2683) rotate(-90) scale(1,1.18)" text-anchor="end" font-family="'Liberation Sans', Arial, sans-serif" font-size="16.9" fill="#2a2a2a" stroke="#2a2a2a" stroke-width="0.8">X-146,001800</text>
<text transform="translate(596.4,2683) rotate(-90) scale(1,1.18)" text-anchor="end" font-family="'Liberation Sans', Arial, sans-serif" font-size="16.9" fill="#2a2a2a" stroke="#2a2a2a" stroke-width="0.8">X-146,001400</text>
<text transform="translate(636.5,2683) rotate(-90) scale(1,1.18)" text-anchor="end" font-family="'Liberation Sans', Arial, sans-serif" font-size="16.9" fill="#2a2a2a" stroke="#2a2a2a" stroke-width="0.8">X-146,001500</text>
<text transform="translate(676.5,2683) rotate(-90) scale(1,1.18)" text-anchor="end" font-family="'Liberation Sans', Arial, sans-serif" font-size="16.9" fill="#2a2a2a" stroke="#2a2a2a" stroke-width="0.8">X-146,001900</text>
<text transform="translate(716.6,2683) rotate(-90) scale(1,1.18)" text-anchor="end" font-family="'Liberation Sans', Arial, sans-serif" font-size="16.9" fill="#2a2a2a" stroke="#2a2a2a" stroke-width="0.8">X-146,001700</text>
<text transform="translate(756.7,2683) rotate(-90) scale(1,1.18)" text-anchor="end" font-family="'Liberation Sans', Arial, sans-serif" font-size="16.9" fill="#2a2a2a" stroke="#2a2a2a" stroke-width="0.8">X-146,001900</text>
<text transform="translate(796.7,2683) rotate(-90) scale(1,1.18)" text-anchor="end" font-family="'Liberation Sans', Arial, sans-serif" font-size="16.9" fill="#2a2a2a" stroke="#2a2a2a" stroke-width="0.8">X-146,014200</text>
<text transform="translate(836.8,2683) rotate(-90) scale(1,1.18)" text-anchor="end" font-family="'Liberation Sans', Arial, sans-serif" font-size="16.9" fill="#2a2a2a" stroke="#2a2a2a" stroke-width="0.8">X-146,017800</text>
<text transform="translate(876.9,2683) rotate(-90) scale(1,1.18)" text-anchor="end" font-family="'Liberation Sans', Arial, sans-serif" font-size="16.9" fill="#2a2a2a" stroke="#2a2a2a" stroke-width="0.8">X-146,019400</text>
<text transform="translate(916.9,2683) rotate(-90) scale(1,1.18)" text-anchor="end" font-family="'Liberation Sans', Arial, sans-serif" font-size="16.9" fill="#2a2a2a" stroke="#2a2a2a" stroke-width="0.8">X-146,021800</text>
<text transform="translate(957,2683) rotate(-90) scale(1,1.18)" text-anchor="end" font-family="'Liberation Sans', Arial, sans-serif" font-size="16.9" fill="#2a2a2a" stroke="#2a2a2a" stroke-width="0.8">X-146,023300</text>
<text transform="translate(997.1,2683) rotate(-90) scale(1,1.18)" text-anchor="end" font-family="'Liberation Sans', Arial, sans-serif" font-size="16.9" fill="#2a2a2a" stroke="#2a2a2a" stroke-width="0.8">X-146,024100</text>
<text transform="translate(1037.2,2683) rotate(-90) scale(1,1.18)" text-anchor="end" font-family="'Liberation Sans', Arial, sans-serif" font-size="16.9" fill="#2a2a2a" stroke="#2a2a2a" stroke-width="0.8">X-146,030000</text>
<text transform="translate(1077.2,2683) rotate(-90) scale(1,1.18)" text-anchor="end" font-family="'Liberation Sans', Arial, sans-serif" font-size="16.9" fill="#2a2a2a" stroke="#2a2a2a" stroke-width="0.8">X-147,300200</text>
<text transform="translate(1117.3,2683) rotate(-90) scale(1,1.18)" text-anchor="end" font-family="'Liberation Sans', Arial, sans-serif" font-size="16.9" fill="#2a2a2a" stroke="#2a2a2a" stroke-width="0.8">X-147,300100</text>
<text transform="translate(1157.4,2683) rotate(-90) scale(1,1.18)" text-anchor="end" font-family="'Liberation Sans', Arial, sans-serif" font-size="16.9" fill="#2a2a2a" stroke="#2a2a2a" stroke-width="0.8">X-147,300400</text>
<text transform="translate(1197.4,2683) rotate(-90) scale(1,1.18)" text-anchor="end" font-family="'Liberation Sans', Arial, sans-serif" font-size="16.9" fill="#2a2a2a" stroke="#2a2a2a" stroke-width="0.8">X-147,300000</text>
<text transform="translate(1237.5,2683) rotate(-90) scale(1,1.18)" text-anchor="end" font-family="'Liberation Sans', Arial, sans-serif" font-size="16.9" fill="#2a2a2a" stroke="#2a2a2a" stroke-width="0.8">X-147,300800</text>
<text transform="translate(1277.6,2683) rotate(-90) scale(1,1.18)" text-anchor="end" font-family="'Liberation Sans', Arial, sans-serif" font-size="16.9" fill="#2a2a2a" stroke="#2a2a2a" stroke-width="0.8">X-147,251400</text>
<text transform="translate(1317.6,2683) rotate(-90) scale(1,1.18)" text-anchor="end" font-family="'Liberation Sans', Arial, sans-serif" font-size="16.9" fill="#2a2a2a" stroke="#2a2a2a" stroke-width="0.8">X-147,266100</text>
<text transform="translate(1357.7,2683) rotate(-90) scale(1,1.18)" text-anchor="end" font-family="'Liberation Sans', Arial, sans-serif" font-size="16.9" fill="#2a2a2a" stroke="#2a2a2a" stroke-width="0.8">X-147,229900</text>
<text transform="translate(1397.8,2683) rotate(-90) scale(1,1.18)" text-anchor="end" font-family="'Liberation Sans', Arial, sans-serif" font-size="16.9" fill="#2a2a2a" stroke="#2a2a2a" stroke-width="0.8">X-147,233000</text>
<text transform="translate(1437.9,2683) rotate(-90) scale(1,1.18)" text-anchor="end" font-family="'Liberation Sans', Arial, sans-serif" font-size="16.9" fill="#2a2a2a" stroke="#2a2a2a" stroke-width="0.8">X-147,275100</text>
<text transform="translate(1477.9,2683) rotate(-90) scale(1,1.18)" text-anchor="end" font-family="'Liberation Sans', Arial, sans-serif" font-size="16.9" fill="#2a2a2a" stroke="#2a2a2a" stroke-width="0.8">X-147,242800</text>
<text transform="translate(1518,2683) rotate(-90) scale(1,1.18)" text-anchor="end" font-family="'Liberation Sans', Arial, sans-serif" font-size="16.9" fill="#2a2a2a" stroke="#2a2a2a" stroke-width="0.8">X-147,290000</text>
<text transform="translate(1558.1,2683) rotate(-90) scale(1,1.18)" text-anchor="end" font-family="'Liberation Sans', Arial, sans-serif" font-size="16.9" fill="#2a2a2a" stroke="#2a2a2a" stroke-width="0.8">X-147,270600</text>
<text transform="translate(1598.1,2683) rotate(-90) scale(1,1.18)" text-anchor="end" font-family="'Liberation Sans', Arial, sans-serif" font-size="16.9" fill="#2a2a2a" stroke="#2a2a2a" stroke-width="0.8">X-148,537000</text>
<text transform="translate(1638.2,2683) rotate(-90) scale(1,1.18)" text-anchor="end" font-family="'Liberation Sans', Arial, sans-serif" font-size="16.9" fill="#2a2a2a" stroke="#2a2a2a" stroke-width="0.8">X-149,519900</text>
<text transform="translate(1678.3,2683) rotate(-90) scale(1,1.18)" text-anchor="end" font-family="'Liberation Sans', Arial, sans-serif" font-size="16.9" fill="#2a2a2a" stroke="#2a2a2a" stroke-width="0.8">Y-002,888246</text>
<text transform="translate(1718.3,2683) rotate(-90) scale(1,1.18)" text-anchor="end" font-family="'Liberation Sans', Arial, sans-serif" font-size="16.9" fill="#2a2a2a" stroke="#2a2a2a" stroke-width="0.8">X-007,103000</text>
<text transform="translate(1758.4,2683) rotate(-90) scale(1,1.18)" text-anchor="end" font-family="'Liberation Sans', Arial, sans-serif" font-size="16.9" fill="#2a2a2a" stroke="#2a2a2a" stroke-width="0.8">X-007,180292</text>
<text transform="translate(1798.5,2683) rotate(-90) scale(1,1.18)" text-anchor="end" font-family="'Liberation Sans', Arial, sans-serif" font-size="16.9" fill="#2a2a2a" stroke="#2a2a2a" stroke-width="0.8">X-009,676600</text>
<text transform="translate(1838.6,2683) rotate(-90) scale(1,1.18)" text-anchor="end" font-family="'Liberation Sans', Arial, sans-serif" font-size="16.9" fill="#2a2a2a" stroke="#2a2a2a" stroke-width="0.8">X-014,001300</text>
<text transform="translate(1878.6,2683) rotate(-90) scale(1,1.18)" text-anchor="end" font-family="'Liberation Sans', Arial, sans-serif" font-size="16.9" fill="#2a2a2a" stroke="#2a2a2a" stroke-width="0.8">X-016,526600</text>
<text transform="translate(1918.7,2683) rotate(-90) scale(1,1.18)" text-anchor="end" font-family="'Liberation Sans', Arial, sans-serif" font-size="16.9" fill="#2a2a2a" stroke="#2a2a2a" stroke-width="0.8">X-029,564400</text>
<text transform="translate(1958.8,2683) rotate(-90) scale(1,1.18)" text-anchor="end" font-family="'Liberation Sans', Arial, sans-serif" font-size="16.9" fill="#2a2a2a" stroke="#2a2a2a" stroke-width="0.8">X-031,003900</text>
<text transform="translate(1998.8,2683) rotate(-90) scale(1,1.18)" text-anchor="end" font-family="'Liberation Sans', Arial, sans-serif" font-size="16.9" fill="#2a2a2a" stroke="#2a2a2a" stroke-width="0.8">X-066,682270</text>
<text transform="translate(2038.9,2683) rotate(-90) scale(1,1.18)" text-anchor="end" font-family="'Liberation Sans', Arial, sans-serif" font-size="16.9" fill="#2a2a2a" stroke="#2a2a2a" stroke-width="0.8">X-067,200000</text>
<text transform="translate(2079,2683) rotate(-90) scale(1,1.18)" text-anchor="end" font-family="'Liberation Sans', Arial, sans-serif" font-size="16.9" fill="#2a2a2a" stroke="#2a2a2a" stroke-width="0.8">X-067,590000</text>
<text transform="translate(2119,2683) rotate(-90) scale(1,1.18)" text-anchor="end" font-family="'Liberation Sans', Arial, sans-serif" font-size="16.9" fill="#2a2a2a" stroke="#2a2a2a" stroke-width="0.8">X-107,230000</text>
<text transform="translate(2159.1,2683) rotate(-90) scale(1,1.18)" text-anchor="end" font-family="'Liberation Sans', Arial, sans-serif" font-size="16.9" fill="#2a2a2a" stroke="#2a2a2a" stroke-width="0.8">X-138,481800</text>
<text transform="translate(2199.2,2683) rotate(-90) scale(1,1.18)" text-anchor="end" font-family="'Liberation Sans', Arial, sans-serif" font-size="16.9" fill="#2a2a2a" stroke="#2a2a2a" stroke-width="0.8">X-153,229100</text>
</svg></body></html>
